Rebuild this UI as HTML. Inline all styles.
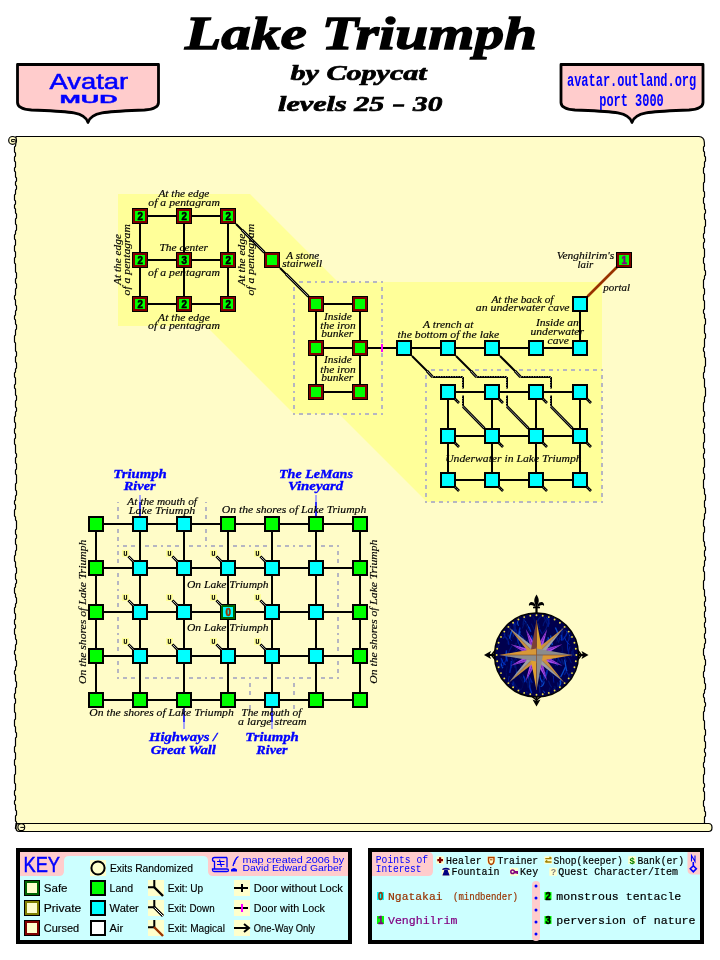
<!DOCTYPE html>
<html><head><meta charset="utf-8"><title>Lake Triumph</title>
<style>html,body{margin:0;padding:0;background:#fff;width:720px;height:960px;overflow:hidden}svg{display:block} svg{will-change:transform}</style>
</head><body>
<svg width="720" height="960" viewBox="0 0 720 960" shape-rendering="auto">
<rect width="720" height="960" fill="#fff"/>
<text x="185.09" y="48.60" font-family='"Liberation Serif", serif' font-size="47" font-weight="bold" font-style="italic" fill="#000" textLength="351.94" lengthAdjust="spacingAndGlyphs" stroke="#000" stroke-width="1.3">Lake Triumph</text>
<text x="290.50" y="80.00" font-family='"Liberation Serif", serif' font-size="22" font-weight="bold" font-style="italic" fill="#000" textLength="136.14" lengthAdjust="spacingAndGlyphs" stroke="#000" stroke-width="0.7">by Copycat</text>
<text x="278.00" y="110.80" font-family='"Liberation Serif", serif' font-size="21.5" font-weight="bold" font-style="italic" fill="#000" textLength="106.34" lengthAdjust="spacingAndGlyphs" stroke="#000" stroke-width="0.7">levels 25</text>
<text x="413.09" y="110.80" font-family='"Liberation Serif", serif' font-size="21.5" font-weight="bold" font-style="italic" fill="#000" textLength="29.31" lengthAdjust="spacingAndGlyphs" stroke="#000" stroke-width="0.7">30</text>
<path d="M393.2,104.3 H404.4 L404,106.7 H392.8 Z" fill="#000"/>
<path d="M17.5,64.5 H158.5 V102.5 Q158.5,109.0 144.5,110.0 C108,111.5 91,111.5 88,122.5 C85,111.5 68,111.5 31.5,110.0 Q17.5,109.0 17.5,102.5 Z" fill="#ffcccc" stroke="#000" stroke-width="2.8" stroke-linejoin="round"/>
<path d="M561,64.5 H703 V102.5 Q703,109.0 689,110.0 C652,111.5 635,111.5 632,122.5 C629,111.5 612,111.5 575,110.0 Q561,109.0 561,102.5 Z" fill="#ffcccc" stroke="#000" stroke-width="2.8" stroke-linejoin="round"/>
<text x="49.60" y="88.90" font-family='"Liberation Sans", sans-serif' font-size="22" font-weight="normal" font-style="normal" fill="#0000ff" textLength="78.46" lengthAdjust="spacingAndGlyphs" stroke="#0000ff" stroke-width="0.55">Avatar</text>
<text x="59.40" y="103.10" font-family='"Liberation Sans", sans-serif' font-size="11.6" font-weight="bold" font-style="normal" fill="#0000ff" textLength="58.26" lengthAdjust="spacingAndGlyphs" stroke="#0000ff" stroke-width="0.3">MUD</text>
<text x="567.00" y="85.50" font-family='"Liberation Mono", monospace' font-size="18" font-weight="bold" font-style="normal" fill="#0000ff" textLength="129.22" lengthAdjust="spacingAndGlyphs">avatar.outland.org</text>
<text x="599.30" y="105.80" font-family='"Liberation Mono", monospace' font-size="18.5" font-weight="bold" font-style="normal" fill="#0000ff" textLength="64.41" lengthAdjust="spacingAndGlyphs">port 3000</text>
<path d="M16,136.5 H699 Q704,137 704.3,142 L704.5,146.0 L703.5,147.0 L703.5,151.0 L704.5,152.0 L704.5,156.0 L705.5,157.0 L705.5,161.0 L704.5,162.0 L704.5,167.0 L703.5,168.0 L703.5,173.0 L704.5,174.0 L704.5,182.0 L703.5,183.0 L703.5,191.0 L704.5,192.0 L704.5,197.0 L703.5,198.0 L703.5,203.0 L704.5,204.0 L704.5,209.0 L705.5,210.0 L705.5,213.0 L704.5,214.0 L704.5,219.0 L705.5,220.0 L705.5,226.0 L704.5,227.0 L704.5,233.0 L703.5,234.0 L703.5,238.0 L704.5,239.0 L704.5,242.0 L703.5,243.0 L703.5,248.0 L704.5,249.0 L704.5,257.0 L703.5,258.0 L703.5,263.0 L704.5,264.0 L704.5,270.0 L705.5,271.0 L705.5,275.0 L704.5,276.0 L704.5,279.0 L703.5,280.0 L703.5,288.0 L704.5,289.0 L704.5,294.0 L703.5,295.0 L703.5,300.0 L704.5,301.0 L704.5,309.0 L703.5,310.0 L703.5,313.0 L704.5,314.0 L704.5,318.0 L705.5,319.0 L705.5,324.0 L704.5,325.0 L704.5,333.0 L705.5,334.0 L705.5,338.0 L704.5,339.0 L704.5,347.0 L703.5,348.0 L703.5,351.0 L704.5,352.0 L704.5,357.0 L705.5,358.0 L705.5,366.0 L704.5,367.0 L704.5,372.0 L703.5,373.0 L703.5,378.0 L704.5,379.0 L704.5,387.0 L705.5,388.0 L705.5,396.0 L704.5,397.0 L704.5,402.0 L703.5,403.0 L703.5,411.0 L704.5,412.0 L704.5,416.0 L703.5,417.0 L703.5,422.0 L704.5,423.0 L704.5,428.0 L703.5,429.0 L703.5,433.0 L704.5,434.0 L704.5,442.0 L703.5,443.0 L703.5,448.0 L704.5,449.0 L704.5,453.0 L703.5,454.0 L703.5,458.0 L704.5,459.0 L704.5,467.0 L703.5,468.0 L703.5,473.0 L704.5,474.0 L704.5,479.0 L703.5,480.0 L703.5,488.0 L704.5,489.0 L704.5,494.0 L705.5,495.0 L705.5,500.0 L704.5,501.0 L704.5,507.0 L705.5,508.0 L705.5,513.0 L704.5,514.0 L704.5,519.0 L703.5,520.0 L703.5,526.0 L704.5,527.0 L704.5,532.0 L703.5,533.0 L703.5,541.0 L704.5,542.0 L704.5,546.0 L705.5,547.0 L705.5,550.0 L704.5,551.0 L704.5,556.0 L705.5,557.0 L705.5,560.0 L704.5,561.0 L704.5,566.0 L703.5,567.0 L703.5,571.0 L704.5,572.0 L704.5,580.0 L703.5,581.0 L703.5,589.0 L704.5,590.0 L704.5,596.0 L705.5,597.0 L705.5,601.0 L704.5,602.0 L704.5,606.0 L705.5,607.0 L705.5,611.0 L704.5,612.0 L704.5,617.0 L705.5,618.0 L705.5,622.0 L704.5,623.0 L704.5,627.0 L705.5,628.0 L705.5,633.0 L704.5,634.0 L704.5,638.0 L705.5,639.0 L705.5,643.0 L704.5,644.0 L704.5,648.0 L703.5,649.0 L703.5,655.0 L704.5,656.0 L704.5,659.0 L705.5,660.0 L705.5,665.0 L704.5,666.0 L704.5,671.0 L703.5,672.0 L703.5,677.0 L704.5,678.0 L704.5,683.0 L705.5,684.0 L705.5,689.0 L704.5,690.0 L704.5,693.0 L703.5,694.0 L703.5,697.0 L704.5,698.0 L704.5,702.0 L705.5,703.0 L705.5,706.0 L704.5,707.0 L704.5,711.0 L703.5,712.0 L703.5,720.0 L704.5,721.0 L704.5,729.0 L705.5,730.0 L705.5,735.0 L704.5,736.0 L704.5,741.0 L705.5,742.0 L705.5,748.0 L704.5,749.0 L704.5,752.0 L705.5,753.0 L705.5,756.0 L704.5,757.0 L704.5,762.0 L703.5,763.0 L703.5,767.0 L704.5,768.0 L704.5,774.0 L703.5,775.0 L703.5,783.0 L704.5,784.0 L704.5,787.0 L703.5,788.0 L703.5,791.0 L704.5,792.0 L704.5,800.0 L703.5,801.0 L703.5,806.0 L704.5,807.0 L704.5,811.0 L705.5,812.0 L705.5,816.0 L704.5,817.0 L704.5,823.0 L704,823.5 H16 L15.5,829.0 L15.5,827.0 L16.5,826.0 L16.5,822.0 L15.5,821.0 L15.5,816.0 L16.5,815.0 L16.5,811.0 L15.5,810.0 L15.5,805.0 L14.5,804.0 L14.5,801.0 L15.5,800.0 L15.5,796.0 L14.5,795.0 L14.5,791.0 L15.5,790.0 L15.5,784.0 L14.5,783.0 L14.5,775.0 L15.5,774.0 L15.5,766.0 L14.5,765.0 L14.5,760.0 L15.5,759.0 L15.5,753.0 L14.5,752.0 L14.5,747.0 L15.5,746.0 L15.5,738.0 L16.5,737.0 L16.5,733.0 L15.5,732.0 L15.5,727.0 L14.5,726.0 L14.5,720.0 L15.5,719.0 L15.5,713.0 L14.5,712.0 L14.5,704.0 L15.5,703.0 L15.5,699.0 L14.5,698.0 L14.5,694.0 L15.5,693.0 L15.5,688.0 L16.5,687.0 L16.5,682.0 L15.5,681.0 L15.5,675.0 L14.5,674.0 L14.5,671.0 L15.5,670.0 L15.5,667.0 L16.5,666.0 L16.5,661.0 L15.5,660.0 L15.5,655.0 L14.5,654.0 L14.5,651.0 L15.5,650.0 L15.5,645.0 L16.5,644.0 L16.5,640.0 L15.5,639.0 L15.5,635.0 L14.5,634.0 L14.5,629.0 L15.5,628.0 L15.5,625.0 L14.5,624.0 L14.5,620.0 L15.5,619.0 L15.5,614.0 L14.5,613.0 L14.5,608.0 L15.5,607.0 L15.5,604.0 L16.5,603.0 L16.5,598.0 L15.5,597.0 L15.5,594.0 L14.5,593.0 L14.5,588.0 L15.5,587.0 L15.5,584.0 L16.5,583.0 L16.5,580.0 L15.5,579.0 L15.5,574.0 L16.5,573.0 L16.5,568.0 L15.5,567.0 L15.5,562.0 L14.5,561.0 L14.5,556.0 L15.5,555.0 L15.5,551.0 L16.5,550.0 L16.5,545.0 L15.5,544.0 L15.5,539.0 L16.5,538.0 L16.5,535.0 L15.5,534.0 L15.5,530.0 L16.5,529.0 L16.5,521.0 L15.5,520.0 L15.5,517.0 L14.5,516.0 L14.5,510.0 L15.5,509.0 L15.5,505.0 L14.5,504.0 L14.5,501.0 L15.5,500.0 L15.5,496.0 L16.5,495.0 L16.5,491.0 L15.5,490.0 L15.5,484.0 L16.5,483.0 L16.5,475.0 L15.5,474.0 L15.5,470.0 L16.5,469.0 L16.5,464.0 L15.5,463.0 L15.5,458.0 L16.5,457.0 L16.5,454.0 L15.5,453.0 L15.5,445.0 L14.5,444.0 L14.5,439.0 L15.5,438.0 L15.5,434.0 L14.5,433.0 L14.5,429.0 L15.5,428.0 L15.5,423.0 L14.5,422.0 L14.5,417.0 L15.5,416.0 L15.5,412.0 L16.5,411.0 L16.5,408.0 L15.5,407.0 L15.5,401.0 L16.5,400.0 L16.5,396.0 L15.5,395.0 L15.5,389.0 L14.5,388.0 L14.5,385.0 L15.5,384.0 L15.5,378.0 L14.5,377.0 L14.5,373.0 L15.5,372.0 L15.5,369.0 L16.5,368.0 L16.5,363.0 L15.5,362.0 L15.5,357.0 L16.5,356.0 L16.5,352.0 L15.5,351.0 L15.5,343.0 L14.5,342.0 L14.5,336.0 L15.5,335.0 L15.5,330.0 L16.5,329.0 L16.5,325.0 L15.5,324.0 L15.5,320.0 L14.5,319.0 L14.5,316.0 L15.5,315.0 L15.5,311.0 L16.5,310.0 L16.5,306.0 L15.5,305.0 L15.5,300.0 L14.5,299.0 L14.5,296.0 L15.5,295.0 L15.5,289.0 L16.5,288.0 L16.5,284.0 L15.5,283.0 L15.5,279.0 L16.5,278.0 L16.5,273.0 L15.5,272.0 L15.5,264.0 L14.5,263.0 L14.5,258.0 L15.5,257.0 L15.5,252.0 L14.5,251.0 L14.5,246.0 L15.5,245.0 L15.5,240.0 L14.5,239.0 L14.5,235.0 L15.5,234.0 L15.5,231.0 L16.5,230.0 L16.5,225.0 L15.5,224.0 L15.5,219.0 L16.5,218.0 L16.5,214.0 L15.5,213.0 L15.5,209.0 L14.5,208.0 L14.5,205.0 L15.5,204.0 L15.5,201.0 L14.5,200.0 L14.5,195.0 L15.5,194.0 L15.5,190.0 L16.5,189.0 L16.5,186.0 L15.5,185.0 L15.5,182.0 L16.5,181.0 L16.5,178.0 L15.5,177.0 L15.5,172.0 L14.5,171.0 L14.5,168.0 L15.5,167.0 L15.5,162.0 L14.5,161.0 L14.5,157.0 L15.5,156.0 L15.5,153.0 L14.5,152.0 L14.5,147.0 L15.5,146.0 L16,142 Z" fill="#fffcc8" stroke="#000" stroke-width="1.2"/>
<path d="M19,823.5 H708.5 Q712,823.5 712,827.5 Q712,831.5 708.5,831.5 H19 Q16,831.5 16,827.5 Q16,823.5 19,823.5 Z" fill="#fffcc8" stroke="#000" stroke-width="1.2"/>
<circle cx="21.3" cy="827.2" r="3.4" fill="#fffcc8" stroke="#000" stroke-width="1.1"/>
<path d="M20.3,827.4 H24" stroke="#000" stroke-width="1"/>
<circle cx="12.6" cy="140.4" r="3.9" fill="#fffcc8" stroke="#000" stroke-width="1.2"/>
<path d="M15.2,142.4 V139.6 H11.6 V141.6 H14.2" stroke="#000" stroke-width="1" fill="none"/>
<polygon points="118,194 250,194 338,282 602,282 602,502 427,502 339,414 294,414 206,326 118,326" fill="#ffff99"/>
<path d="M294,282 L383,282" fill="none" stroke="#b6b6c2" stroke-width="2" stroke-dasharray="4 4 4 4 2 4" stroke-dashoffset="17"/>
<path d="M294,414 L383,414" fill="none" stroke="#b6b6c2" stroke-width="2" stroke-dasharray="4 4 4 4 2 4" stroke-dashoffset="17"/>
<path d="M294,282 L294,415" fill="none" stroke="#b6b6c2" stroke-width="2" stroke-dasharray="4 4 4 4 2 4" stroke-dashoffset="17"/>
<path d="M382,282 L382,415" fill="none" stroke="#b6b6c2" stroke-width="2" stroke-dasharray="4 4 4 4 2 4" stroke-dashoffset="17"/>
<path d="M426,370 L603,370" fill="none" stroke="#b6b6c2" stroke-width="2" stroke-dasharray="4 4 4 4 2 4" stroke-dashoffset="17"/>
<path d="M426,502 L603,502" fill="none" stroke="#b6b6c2" stroke-width="2" stroke-dasharray="4 4 4 4 2 4" stroke-dashoffset="17"/>
<path d="M426,370 L426,503" fill="none" stroke="#b6b6c2" stroke-width="2" stroke-dasharray="4 4 4 4 2 4" stroke-dashoffset="17"/>
<path d="M602,370 L602,503" fill="none" stroke="#b6b6c2" stroke-width="2" stroke-dasharray="4 4 4 4 2 4" stroke-dashoffset="17"/>
<path d="M118,546 L339,546" fill="none" stroke="#b6b6c2" stroke-width="2" stroke-dasharray="4 4 4 4 2 4" stroke-dashoffset="17"/>
<path d="M118,678 L339,678" fill="none" stroke="#b6b6c2" stroke-width="2" stroke-dasharray="4 4 4 4 2 4" stroke-dashoffset="17"/>
<path d="M118,546 L118,679" fill="none" stroke="#b6b6c2" stroke-width="2" stroke-dasharray="4 4 4 4 2 4" stroke-dashoffset="17"/>
<path d="M338,546 L338,679" fill="none" stroke="#b6b6c2" stroke-width="2" stroke-dasharray="4 4 4 4 2 4" stroke-dashoffset="17"/>
<path d="M118,502 L118,546" fill="none" stroke="#b6b6c2" stroke-width="2" stroke-dasharray="4 4 4 4 2 4" stroke-dashoffset="17"/>
<path d="M206,502 L206,546" fill="none" stroke="#b6b6c2" stroke-width="2" stroke-dasharray="4 4 4 4 2 4" stroke-dashoffset="17"/>
<path d="M250,678 L250,709" fill="none" stroke="#b6b6c2" stroke-width="2" stroke-dasharray="4 4 4 4 2 4" stroke-dashoffset="17"/>
<path d="M294,678 L294,709" fill="none" stroke="#b6b6c2" stroke-width="2" stroke-dasharray="4 4 4 4 2 4" stroke-dashoffset="17"/>
<path d="M140,216 L228,216" stroke="#000" stroke-width="2" fill="none"/>
<path d="M140,260 L228,260" stroke="#000" stroke-width="2" fill="none"/>
<path d="M140,304 L228,304" stroke="#000" stroke-width="2" fill="none"/>
<path d="M140,216 L140,304" stroke="#000" stroke-width="2" fill="none"/>
<path d="M184,216 L184,304" stroke="#000" stroke-width="2" fill="none"/>
<path d="M228,216 L228,304" stroke="#000" stroke-width="2" fill="none"/>
<path d="M236,224 L242.5,230.5" stroke="#000" stroke-width="2" fill="none"/>
<path d="M242,230 L264.5,252.5" stroke="#000" stroke-width="2.8" fill="none"/>
<path d="M242,230 L264.5,252.5" stroke="#fff" stroke-width="0.9" stroke-dasharray="1 0.5" fill="none" opacity="0.9"/>
<path d="M280,268 L286.5,274.5" stroke="#000" stroke-width="2" fill="none"/>
<path d="M286,274 L308.5,296.5" stroke="#000" stroke-width="2.8" fill="none"/>
<path d="M286,274 L308.5,296.5" stroke="#fff" stroke-width="0.9" stroke-dasharray="1 0.5" fill="none" opacity="0.9"/>
<path d="M316,304 L360,304" stroke="#000" stroke-width="2" fill="none"/>
<path d="M316,348 L360,348" stroke="#000" stroke-width="2" fill="none"/>
<path d="M316,392 L360,392" stroke="#000" stroke-width="2" fill="none"/>
<path d="M316,304 L316,392" stroke="#000" stroke-width="2" fill="none"/>
<path d="M360,304 L360,392" stroke="#000" stroke-width="2" fill="none"/>
<path d="M360,348 L404,348" stroke="#000" stroke-width="2" fill="none"/>
<path d="M404,348 L580,348" stroke="#000" stroke-width="2" fill="none"/>
<path d="M580,304 L580,348" stroke="#000" stroke-width="2" fill="none"/>
<path d="M587.5,296.5 L617,267" stroke="#993300" stroke-width="2.6" fill="none"/>
<path d="M448,392 L580,392" stroke="#000" stroke-width="2" fill="none"/>
<path d="M448,436 L580,436" stroke="#000" stroke-width="2" fill="none"/>
<path d="M448,480 L580,480" stroke="#000" stroke-width="2" fill="none"/>
<path d="M448,392 L448,480" stroke="#000" stroke-width="2" fill="none"/>
<path d="M492,392 L492,480" stroke="#000" stroke-width="2" fill="none"/>
<path d="M536,392 L536,480" stroke="#000" stroke-width="2" fill="none"/>
<path d="M580,392 L580,480" stroke="#000" stroke-width="2" fill="none"/>
<path d="M412,356 L427.5,371.5" stroke="#000" stroke-width="2" fill="none"/>
<path d="M427,371 L432.5,377" stroke="#000" stroke-width="2.8" fill="none"/>
<path d="M427,371 L432.5,377" stroke="#fff" stroke-width="0.9" stroke-dasharray="1 0.5" fill="none" opacity="0.9"/>
<path d="M432.5,377 L463,377" stroke="#000" stroke-width="2" fill="none"/>
<path d="M432.5,376.55 L463,376.55" stroke="#fff" stroke-width="0.7" stroke-dasharray="0.9 1.6" fill="none" opacity="0.85"/>
<path d="M463,377 L463,388.5" stroke="#000" stroke-width="2" fill="none"/>
<path d="M462.55,377 L462.55,388.5" stroke="#fff" stroke-width="0.7" stroke-dasharray="0.9 1.6" fill="none" opacity="0.85"/>
<path d="M463,395.5 L463,406.5" stroke="#000" stroke-width="2" fill="none"/>
<path d="M462.55,395.5 L462.55,406.5" stroke="#fff" stroke-width="0.7" stroke-dasharray="0.9 1.6" fill="none" opacity="0.85"/>
<path d="M463,406.5 L484.5,428.5" stroke="#000" stroke-width="2.8" fill="none"/>
<path d="M463,406.5 L484.5,428.5" stroke="#fff" stroke-width="0.9" stroke-dasharray="1 0.5" fill="none" opacity="0.9"/>
<path d="M456,356 L471.5,371.5" stroke="#000" stroke-width="2" fill="none"/>
<path d="M471,371 L476.5,377" stroke="#000" stroke-width="2.8" fill="none"/>
<path d="M471,371 L476.5,377" stroke="#fff" stroke-width="0.9" stroke-dasharray="1 0.5" fill="none" opacity="0.9"/>
<path d="M476.5,377 L507,377" stroke="#000" stroke-width="2" fill="none"/>
<path d="M476.5,376.55 L507,376.55" stroke="#fff" stroke-width="0.7" stroke-dasharray="0.9 1.6" fill="none" opacity="0.85"/>
<path d="M507,377 L507,388.5" stroke="#000" stroke-width="2" fill="none"/>
<path d="M506.55,377 L506.55,388.5" stroke="#fff" stroke-width="0.7" stroke-dasharray="0.9 1.6" fill="none" opacity="0.85"/>
<path d="M507,395.5 L507,406.5" stroke="#000" stroke-width="2" fill="none"/>
<path d="M506.55,395.5 L506.55,406.5" stroke="#fff" stroke-width="0.7" stroke-dasharray="0.9 1.6" fill="none" opacity="0.85"/>
<path d="M507,406.5 L528.5,428.5" stroke="#000" stroke-width="2.8" fill="none"/>
<path d="M507,406.5 L528.5,428.5" stroke="#fff" stroke-width="0.9" stroke-dasharray="1 0.5" fill="none" opacity="0.9"/>
<path d="M500,356 L515.5,371.5" stroke="#000" stroke-width="2" fill="none"/>
<path d="M515,371 L520.5,377" stroke="#000" stroke-width="2.8" fill="none"/>
<path d="M515,371 L520.5,377" stroke="#fff" stroke-width="0.9" stroke-dasharray="1 0.5" fill="none" opacity="0.9"/>
<path d="M520.5,377 L551,377" stroke="#000" stroke-width="2" fill="none"/>
<path d="M520.5,376.55 L551,376.55" stroke="#fff" stroke-width="0.7" stroke-dasharray="0.9 1.6" fill="none" opacity="0.85"/>
<path d="M551,377 L551,388.5" stroke="#000" stroke-width="2" fill="none"/>
<path d="M550.55,377 L550.55,388.5" stroke="#fff" stroke-width="0.7" stroke-dasharray="0.9 1.6" fill="none" opacity="0.85"/>
<path d="M551,395.5 L551,406.5" stroke="#000" stroke-width="2" fill="none"/>
<path d="M550.55,395.5 L550.55,406.5" stroke="#fff" stroke-width="0.7" stroke-dasharray="0.9 1.6" fill="none" opacity="0.85"/>
<path d="M551,406.5 L572.5,428.5" stroke="#000" stroke-width="2.8" fill="none"/>
<path d="M551,406.5 L572.5,428.5" stroke="#fff" stroke-width="0.9" stroke-dasharray="1 0.5" fill="none" opacity="0.9"/>
<rect x="381" y="344" width="2" height="8" fill="#ff00ff"/>
<path d="M96,524 L360,524" stroke="#000" stroke-width="2" fill="none"/>
<path d="M96,568 L360,568" stroke="#000" stroke-width="2" fill="none"/>
<path d="M96,612 L360,612" stroke="#000" stroke-width="2" fill="none"/>
<path d="M96,656 L360,656" stroke="#000" stroke-width="2" fill="none"/>
<path d="M96,700 L360,700" stroke="#000" stroke-width="2" fill="none"/>
<path d="M96,524 L96,700" stroke="#000" stroke-width="2" fill="none"/>
<path d="M140,524 L140,700" stroke="#000" stroke-width="2" fill="none"/>
<path d="M184,524 L184,700" stroke="#000" stroke-width="2" fill="none"/>
<path d="M228,524 L228,700" stroke="#000" stroke-width="2" fill="none"/>
<path d="M272,524 L272,700" stroke="#000" stroke-width="2" fill="none"/>
<path d="M316,524 L316,700" stroke="#000" stroke-width="2" fill="none"/>
<path d="M360,524 L360,700" stroke="#000" stroke-width="2" fill="none"/>
<path d="M140,495 V502" stroke="#9090ff" stroke-width="1.6"/><path d="M140,502 V516" stroke="#0000ff" stroke-width="1.6"/>
<path d="M316,495 V502" stroke="#9090ff" stroke-width="1.6"/><path d="M316,502 V516" stroke="#0000ff" stroke-width="1.6"/>
<path d="M184,708 V713" stroke="#000080" stroke-width="1.6"/><path d="M184,713 V722" stroke="#0000ff" stroke-width="1.6"/><path d="M184,722 V729" stroke="#9090ff" stroke-width="1.6"/>
<path d="M272,708 V713" stroke="#000080" stroke-width="1.6"/><path d="M272,713 V722" stroke="#0000ff" stroke-width="1.6"/><path d="M272,722 V729" stroke="#9090ff" stroke-width="1.6"/>
<rect x="132" y="208" width="16" height="16" fill="#000"/>
<rect x="133" y="209" width="14" height="14" fill="#800000"/>
<rect x="135" y="211" width="10" height="10" fill="#00ff00"/>
<text x="137.40" y="219.90" font-family='"Liberation Sans", sans-serif' font-size="10.8" font-weight="bold" font-style="normal" fill="#000" textLength="5.41" lengthAdjust="spacingAndGlyphs" stroke="#000" stroke-width="0.6">2</text>
<rect x="132" y="252" width="16" height="16" fill="#000"/>
<rect x="133" y="253" width="14" height="14" fill="#800000"/>
<rect x="135" y="255" width="10" height="10" fill="#00ff00"/>
<text x="137.40" y="263.90" font-family='"Liberation Sans", sans-serif' font-size="10.8" font-weight="bold" font-style="normal" fill="#000" textLength="5.41" lengthAdjust="spacingAndGlyphs" stroke="#000" stroke-width="0.6">2</text>
<rect x="132" y="296" width="16" height="16" fill="#000"/>
<rect x="133" y="297" width="14" height="14" fill="#800000"/>
<rect x="135" y="299" width="10" height="10" fill="#00ff00"/>
<text x="137.40" y="307.90" font-family='"Liberation Sans", sans-serif' font-size="10.8" font-weight="bold" font-style="normal" fill="#000" textLength="5.41" lengthAdjust="spacingAndGlyphs" stroke="#000" stroke-width="0.6">2</text>
<rect x="176" y="208" width="16" height="16" fill="#000"/>
<rect x="177" y="209" width="14" height="14" fill="#800000"/>
<rect x="179" y="211" width="10" height="10" fill="#00ff00"/>
<text x="181.40" y="219.90" font-family='"Liberation Sans", sans-serif' font-size="10.8" font-weight="bold" font-style="normal" fill="#000" textLength="5.41" lengthAdjust="spacingAndGlyphs" stroke="#000" stroke-width="0.6">2</text>
<rect x="176" y="252" width="16" height="16" fill="#000"/>
<rect x="177" y="253" width="14" height="14" fill="#800000"/>
<rect x="179" y="255" width="10" height="10" fill="#00ff00"/>
<text x="181.40" y="263.90" font-family='"Liberation Sans", sans-serif' font-size="10.8" font-weight="bold" font-style="normal" fill="#000" textLength="5.41" lengthAdjust="spacingAndGlyphs" stroke="#000" stroke-width="0.6">3</text>
<rect x="176" y="296" width="16" height="16" fill="#000"/>
<rect x="177" y="297" width="14" height="14" fill="#800000"/>
<rect x="179" y="299" width="10" height="10" fill="#00ff00"/>
<text x="181.40" y="307.90" font-family='"Liberation Sans", sans-serif' font-size="10.8" font-weight="bold" font-style="normal" fill="#000" textLength="5.41" lengthAdjust="spacingAndGlyphs" stroke="#000" stroke-width="0.6">2</text>
<rect x="220" y="208" width="16" height="16" fill="#000"/>
<rect x="221" y="209" width="14" height="14" fill="#800000"/>
<rect x="223" y="211" width="10" height="10" fill="#00ff00"/>
<text x="225.40" y="219.90" font-family='"Liberation Sans", sans-serif' font-size="10.8" font-weight="bold" font-style="normal" fill="#000" textLength="5.41" lengthAdjust="spacingAndGlyphs" stroke="#000" stroke-width="0.6">2</text>
<rect x="220" y="252" width="16" height="16" fill="#000"/>
<rect x="221" y="253" width="14" height="14" fill="#800000"/>
<rect x="223" y="255" width="10" height="10" fill="#00ff00"/>
<text x="225.40" y="263.90" font-family='"Liberation Sans", sans-serif' font-size="10.8" font-weight="bold" font-style="normal" fill="#000" textLength="5.41" lengthAdjust="spacingAndGlyphs" stroke="#000" stroke-width="0.6">2</text>
<rect x="220" y="296" width="16" height="16" fill="#000"/>
<rect x="221" y="297" width="14" height="14" fill="#800000"/>
<rect x="223" y="299" width="10" height="10" fill="#00ff00"/>
<text x="225.40" y="307.90" font-family='"Liberation Sans", sans-serif' font-size="10.8" font-weight="bold" font-style="normal" fill="#000" textLength="5.41" lengthAdjust="spacingAndGlyphs" stroke="#000" stroke-width="0.6">2</text>
<rect x="264" y="252" width="16" height="16" fill="#000"/>
<rect x="265" y="253" width="14" height="14" fill="#800000"/>
<rect x="267" y="255" width="10" height="10" fill="#00ff00"/>
<rect x="308" y="296" width="16" height="16" fill="#000"/>
<rect x="309" y="297" width="14" height="14" fill="#800000"/>
<rect x="311" y="299" width="10" height="10" fill="#00ff00"/>
<rect x="308" y="340" width="16" height="16" fill="#000"/>
<rect x="309" y="341" width="14" height="14" fill="#800000"/>
<rect x="311" y="343" width="10" height="10" fill="#00ff00"/>
<rect x="308" y="384" width="16" height="16" fill="#000"/>
<rect x="309" y="385" width="14" height="14" fill="#800000"/>
<rect x="311" y="387" width="10" height="10" fill="#00ff00"/>
<rect x="352" y="296" width="16" height="16" fill="#000"/>
<rect x="353" y="297" width="14" height="14" fill="#800000"/>
<rect x="355" y="299" width="10" height="10" fill="#00ff00"/>
<rect x="352" y="340" width="16" height="16" fill="#000"/>
<rect x="353" y="341" width="14" height="14" fill="#800000"/>
<rect x="355" y="343" width="10" height="10" fill="#00ff00"/>
<rect x="352" y="384" width="16" height="16" fill="#000"/>
<rect x="353" y="385" width="14" height="14" fill="#800000"/>
<rect x="355" y="387" width="10" height="10" fill="#00ff00"/>
<rect x="396" y="340" width="16" height="16" fill="#000"/>
<rect x="398" y="342" width="12" height="12" fill="#00ffff"/>
<rect x="440" y="340" width="16" height="16" fill="#000"/>
<rect x="442" y="342" width="12" height="12" fill="#00ffff"/>
<rect x="484" y="340" width="16" height="16" fill="#000"/>
<rect x="486" y="342" width="12" height="12" fill="#00ffff"/>
<rect x="528" y="340" width="16" height="16" fill="#000"/>
<rect x="530" y="342" width="12" height="12" fill="#00ffff"/>
<rect x="572" y="340" width="16" height="16" fill="#000"/>
<rect x="574" y="342" width="12" height="12" fill="#00ffff"/>
<rect x="572" y="296" width="16" height="16" fill="#000"/>
<rect x="574" y="298" width="12" height="12" fill="#00ffff"/>
<rect x="616" y="252" width="16" height="16" fill="#000"/>
<rect x="617" y="253" width="14" height="14" fill="#800000"/>
<rect x="619" y="255" width="10" height="10" fill="#00ff00"/>
<text x="621.40" y="263.90" font-family='"Liberation Sans", sans-serif' font-size="10.8" font-weight="bold" font-style="normal" fill="#800080" textLength="5.41" lengthAdjust="spacingAndGlyphs" stroke="#800080" stroke-width="0.6">1</text>
<rect x="440" y="384" width="16" height="16" fill="#000"/>
<rect x="442" y="386" width="12" height="12" fill="#00ffff"/>
<path d="M454.5,398.5 L459,403" stroke="#000" stroke-width="2.6" fill="none"/>
<path d="M455.5,399.5 L459,403" stroke="#fff" stroke-width="0.8" stroke-dasharray="1 1.2" fill="none" opacity="0.8"/>
<rect x="440" y="428" width="16" height="16" fill="#000"/>
<rect x="442" y="430" width="12" height="12" fill="#00ffff"/>
<path d="M454.5,442.5 L459,447" stroke="#000" stroke-width="2.6" fill="none"/>
<path d="M455.5,443.5 L459,447" stroke="#fff" stroke-width="0.8" stroke-dasharray="1 1.2" fill="none" opacity="0.8"/>
<rect x="440" y="472" width="16" height="16" fill="#000"/>
<rect x="442" y="474" width="12" height="12" fill="#00ffff"/>
<path d="M454.5,486.5 L459,491" stroke="#000" stroke-width="2.6" fill="none"/>
<path d="M455.5,487.5 L459,491" stroke="#fff" stroke-width="0.8" stroke-dasharray="1 1.2" fill="none" opacity="0.8"/>
<rect x="484" y="384" width="16" height="16" fill="#000"/>
<rect x="486" y="386" width="12" height="12" fill="#00ffff"/>
<path d="M498.5,398.5 L503,403" stroke="#000" stroke-width="2.6" fill="none"/>
<path d="M499.5,399.5 L503,403" stroke="#fff" stroke-width="0.8" stroke-dasharray="1 1.2" fill="none" opacity="0.8"/>
<rect x="484" y="428" width="16" height="16" fill="#000"/>
<rect x="486" y="430" width="12" height="12" fill="#00ffff"/>
<path d="M498.5,442.5 L503,447" stroke="#000" stroke-width="2.6" fill="none"/>
<path d="M499.5,443.5 L503,447" stroke="#fff" stroke-width="0.8" stroke-dasharray="1 1.2" fill="none" opacity="0.8"/>
<rect x="484" y="472" width="16" height="16" fill="#000"/>
<rect x="486" y="474" width="12" height="12" fill="#00ffff"/>
<path d="M498.5,486.5 L503,491" stroke="#000" stroke-width="2.6" fill="none"/>
<path d="M499.5,487.5 L503,491" stroke="#fff" stroke-width="0.8" stroke-dasharray="1 1.2" fill="none" opacity="0.8"/>
<rect x="528" y="384" width="16" height="16" fill="#000"/>
<rect x="530" y="386" width="12" height="12" fill="#00ffff"/>
<path d="M542.5,398.5 L547,403" stroke="#000" stroke-width="2.6" fill="none"/>
<path d="M543.5,399.5 L547,403" stroke="#fff" stroke-width="0.8" stroke-dasharray="1 1.2" fill="none" opacity="0.8"/>
<rect x="528" y="428" width="16" height="16" fill="#000"/>
<rect x="530" y="430" width="12" height="12" fill="#00ffff"/>
<path d="M542.5,442.5 L547,447" stroke="#000" stroke-width="2.6" fill="none"/>
<path d="M543.5,443.5 L547,447" stroke="#fff" stroke-width="0.8" stroke-dasharray="1 1.2" fill="none" opacity="0.8"/>
<rect x="528" y="472" width="16" height="16" fill="#000"/>
<rect x="530" y="474" width="12" height="12" fill="#00ffff"/>
<path d="M542.5,486.5 L547,491" stroke="#000" stroke-width="2.6" fill="none"/>
<path d="M543.5,487.5 L547,491" stroke="#fff" stroke-width="0.8" stroke-dasharray="1 1.2" fill="none" opacity="0.8"/>
<rect x="572" y="384" width="16" height="16" fill="#000"/>
<rect x="574" y="386" width="12" height="12" fill="#00ffff"/>
<path d="M586.5,398.5 L591,403" stroke="#000" stroke-width="2.6" fill="none"/>
<path d="M587.5,399.5 L591,403" stroke="#fff" stroke-width="0.8" stroke-dasharray="1 1.2" fill="none" opacity="0.8"/>
<rect x="572" y="428" width="16" height="16" fill="#000"/>
<rect x="574" y="430" width="12" height="12" fill="#00ffff"/>
<path d="M586.5,442.5 L591,447" stroke="#000" stroke-width="2.6" fill="none"/>
<path d="M587.5,443.5 L591,447" stroke="#fff" stroke-width="0.8" stroke-dasharray="1 1.2" fill="none" opacity="0.8"/>
<rect x="572" y="472" width="16" height="16" fill="#000"/>
<rect x="574" y="474" width="12" height="12" fill="#00ffff"/>
<path d="M586.5,486.5 L591,491" stroke="#000" stroke-width="2.6" fill="none"/>
<path d="M587.5,487.5 L591,491" stroke="#fff" stroke-width="0.8" stroke-dasharray="1 1.2" fill="none" opacity="0.8"/>
<rect x="88" y="516" width="16" height="16" fill="#000"/>
<rect x="90" y="518" width="12" height="12" fill="#00ff00"/>
<rect x="132" y="516" width="16" height="16" fill="#000"/>
<rect x="134" y="518" width="12" height="12" fill="#00ffff"/>
<rect x="176" y="516" width="16" height="16" fill="#000"/>
<rect x="178" y="518" width="12" height="12" fill="#00ffff"/>
<rect x="220" y="516" width="16" height="16" fill="#000"/>
<rect x="222" y="518" width="12" height="12" fill="#00ff00"/>
<rect x="264" y="516" width="16" height="16" fill="#000"/>
<rect x="266" y="518" width="12" height="12" fill="#00ff00"/>
<rect x="308" y="516" width="16" height="16" fill="#000"/>
<rect x="310" y="518" width="12" height="12" fill="#00ff00"/>
<rect x="352" y="516" width="16" height="16" fill="#000"/>
<rect x="354" y="518" width="12" height="12" fill="#00ff00"/>
<rect x="88" y="560" width="16" height="16" fill="#000"/>
<rect x="90" y="562" width="12" height="12" fill="#00ff00"/>
<rect x="132" y="560" width="16" height="16" fill="#000"/>
<rect x="134" y="562" width="12" height="12" fill="#00ffff"/>
<rect x="176" y="560" width="16" height="16" fill="#000"/>
<rect x="178" y="562" width="12" height="12" fill="#00ffff"/>
<rect x="220" y="560" width="16" height="16" fill="#000"/>
<rect x="222" y="562" width="12" height="12" fill="#00ffff"/>
<rect x="264" y="560" width="16" height="16" fill="#000"/>
<rect x="266" y="562" width="12" height="12" fill="#00ffff"/>
<rect x="308" y="560" width="16" height="16" fill="#000"/>
<rect x="310" y="562" width="12" height="12" fill="#00ffff"/>
<rect x="352" y="560" width="16" height="16" fill="#000"/>
<rect x="354" y="562" width="12" height="12" fill="#00ff00"/>
<rect x="88" y="604" width="16" height="16" fill="#000"/>
<rect x="90" y="606" width="12" height="12" fill="#00ff00"/>
<rect x="132" y="604" width="16" height="16" fill="#000"/>
<rect x="134" y="606" width="12" height="12" fill="#00ffff"/>
<rect x="176" y="604" width="16" height="16" fill="#000"/>
<rect x="178" y="606" width="12" height="12" fill="#00ffff"/>
<rect x="220" y="604" width="16" height="16" fill="#000"/>
<rect x="221" y="605" width="14" height="14" fill="#006400"/>
<rect x="223" y="607" width="10" height="10" fill="#00ffff"/>
<text x="225.40" y="615.90" font-family='"Liberation Sans", sans-serif' font-size="10.8" font-weight="bold" font-style="normal" fill="#993300" textLength="5.41" lengthAdjust="spacingAndGlyphs" stroke="#993300" stroke-width="0.6">0</text>
<rect x="264" y="604" width="16" height="16" fill="#000"/>
<rect x="266" y="606" width="12" height="12" fill="#00ffff"/>
<rect x="308" y="604" width="16" height="16" fill="#000"/>
<rect x="310" y="606" width="12" height="12" fill="#00ffff"/>
<rect x="352" y="604" width="16" height="16" fill="#000"/>
<rect x="354" y="606" width="12" height="12" fill="#00ff00"/>
<rect x="88" y="648" width="16" height="16" fill="#000"/>
<rect x="90" y="650" width="12" height="12" fill="#00ff00"/>
<rect x="132" y="648" width="16" height="16" fill="#000"/>
<rect x="134" y="650" width="12" height="12" fill="#00ffff"/>
<rect x="176" y="648" width="16" height="16" fill="#000"/>
<rect x="178" y="650" width="12" height="12" fill="#00ffff"/>
<rect x="220" y="648" width="16" height="16" fill="#000"/>
<rect x="222" y="650" width="12" height="12" fill="#00ffff"/>
<rect x="264" y="648" width="16" height="16" fill="#000"/>
<rect x="266" y="650" width="12" height="12" fill="#00ffff"/>
<rect x="308" y="648" width="16" height="16" fill="#000"/>
<rect x="310" y="650" width="12" height="12" fill="#00ffff"/>
<rect x="352" y="648" width="16" height="16" fill="#000"/>
<rect x="354" y="650" width="12" height="12" fill="#00ff00"/>
<rect x="88" y="692" width="16" height="16" fill="#000"/>
<rect x="90" y="694" width="12" height="12" fill="#00ff00"/>
<rect x="132" y="692" width="16" height="16" fill="#000"/>
<rect x="134" y="694" width="12" height="12" fill="#00ff00"/>
<rect x="176" y="692" width="16" height="16" fill="#000"/>
<rect x="178" y="694" width="12" height="12" fill="#00ff00"/>
<rect x="220" y="692" width="16" height="16" fill="#000"/>
<rect x="222" y="694" width="12" height="12" fill="#00ff00"/>
<rect x="264" y="692" width="16" height="16" fill="#000"/>
<rect x="266" y="694" width="12" height="12" fill="#00ffff"/>
<rect x="308" y="692" width="16" height="16" fill="#000"/>
<rect x="310" y="694" width="12" height="12" fill="#00ff00"/>
<rect x="352" y="692" width="16" height="16" fill="#000"/>
<rect x="354" y="694" width="12" height="12" fill="#00ff00"/>
<rect x="122" y="550" width="7" height="7" fill="#ffff99"/>
<path d="M124.3,551 V555.3 H126.6 V551" stroke="#000" stroke-width="1" fill="none"/>
<path d="M128.4,556.4 L133.2,561.2" stroke="#000" stroke-width="2.7" fill="none"/>
<path d="M129,557 L133.5,561.5" stroke="#fff" stroke-width="0.9" stroke-dasharray="1.2 0.5" fill="none"/>
<rect x="166" y="550" width="7" height="7" fill="#ffff99"/>
<path d="M168.3,551 V555.3 H170.6 V551" stroke="#000" stroke-width="1" fill="none"/>
<path d="M172.4,556.4 L177.2,561.2" stroke="#000" stroke-width="2.7" fill="none"/>
<path d="M173,557 L177.5,561.5" stroke="#fff" stroke-width="0.9" stroke-dasharray="1.2 0.5" fill="none"/>
<rect x="210" y="550" width="7" height="7" fill="#ffff99"/>
<path d="M212.3,551 V555.3 H214.6 V551" stroke="#000" stroke-width="1" fill="none"/>
<path d="M216.4,556.4 L221.2,561.2" stroke="#000" stroke-width="2.7" fill="none"/>
<path d="M217,557 L221.5,561.5" stroke="#fff" stroke-width="0.9" stroke-dasharray="1.2 0.5" fill="none"/>
<rect x="254" y="550" width="7" height="7" fill="#ffff99"/>
<path d="M256.3,551 V555.3 H258.6 V551" stroke="#000" stroke-width="1" fill="none"/>
<path d="M260.4,556.4 L265.2,561.2" stroke="#000" stroke-width="2.7" fill="none"/>
<path d="M261,557 L265.5,561.5" stroke="#fff" stroke-width="0.9" stroke-dasharray="1.2 0.5" fill="none"/>
<rect x="122" y="594" width="7" height="7" fill="#ffff99"/>
<path d="M124.3,595 V599.3 H126.6 V595" stroke="#000" stroke-width="1" fill="none"/>
<path d="M128.4,600.4 L133.2,605.2" stroke="#000" stroke-width="2.7" fill="none"/>
<path d="M129,601 L133.5,605.5" stroke="#fff" stroke-width="0.9" stroke-dasharray="1.2 0.5" fill="none"/>
<rect x="166" y="594" width="7" height="7" fill="#ffff99"/>
<path d="M168.3,595 V599.3 H170.6 V595" stroke="#000" stroke-width="1" fill="none"/>
<path d="M172.4,600.4 L177.2,605.2" stroke="#000" stroke-width="2.7" fill="none"/>
<path d="M173,601 L177.5,605.5" stroke="#fff" stroke-width="0.9" stroke-dasharray="1.2 0.5" fill="none"/>
<rect x="210" y="594" width="7" height="7" fill="#ffff99"/>
<path d="M212.3,595 V599.3 H214.6 V595" stroke="#000" stroke-width="1" fill="none"/>
<path d="M216.4,600.4 L221.2,605.2" stroke="#000" stroke-width="2.7" fill="none"/>
<path d="M217,601 L221.5,605.5" stroke="#fff" stroke-width="0.9" stroke-dasharray="1.2 0.5" fill="none"/>
<rect x="254" y="594" width="7" height="7" fill="#ffff99"/>
<path d="M256.3,595 V599.3 H258.6 V595" stroke="#000" stroke-width="1" fill="none"/>
<path d="M260.4,600.4 L265.2,605.2" stroke="#000" stroke-width="2.7" fill="none"/>
<path d="M261,601 L265.5,605.5" stroke="#fff" stroke-width="0.9" stroke-dasharray="1.2 0.5" fill="none"/>
<rect x="122" y="638" width="7" height="7" fill="#ffff99"/>
<path d="M124.3,639 V643.3 H126.6 V639" stroke="#000" stroke-width="1" fill="none"/>
<path d="M128.4,644.4 L133.2,649.2" stroke="#000" stroke-width="2.7" fill="none"/>
<path d="M129,645 L133.5,649.5" stroke="#fff" stroke-width="0.9" stroke-dasharray="1.2 0.5" fill="none"/>
<rect x="166" y="638" width="7" height="7" fill="#ffff99"/>
<path d="M168.3,639 V643.3 H170.6 V639" stroke="#000" stroke-width="1" fill="none"/>
<path d="M172.4,644.4 L177.2,649.2" stroke="#000" stroke-width="2.7" fill="none"/>
<path d="M173,645 L177.5,649.5" stroke="#fff" stroke-width="0.9" stroke-dasharray="1.2 0.5" fill="none"/>
<rect x="210" y="638" width="7" height="7" fill="#ffff99"/>
<path d="M212.3,639 V643.3 H214.6 V639" stroke="#000" stroke-width="1" fill="none"/>
<path d="M216.4,644.4 L221.2,649.2" stroke="#000" stroke-width="2.7" fill="none"/>
<path d="M217,645 L221.5,649.5" stroke="#fff" stroke-width="0.9" stroke-dasharray="1.2 0.5" fill="none"/>
<rect x="254" y="638" width="7" height="7" fill="#ffff99"/>
<path d="M256.3,639 V643.3 H258.6 V639" stroke="#000" stroke-width="1" fill="none"/>
<path d="M260.4,644.4 L265.2,649.2" stroke="#000" stroke-width="2.7" fill="none"/>
<path d="M261,645 L265.5,649.5" stroke="#fff" stroke-width="0.9" stroke-dasharray="1.2 0.5" fill="none"/>
<text x="158.42" y="196.80" font-family='"Liberation Serif", serif' font-size="10.8" font-weight="normal" font-style="italic" fill="#000" textLength="50.95" lengthAdjust="spacingAndGlyphs" stroke="#000" stroke-width="0.15">At the edge</text>
<text x="148.30" y="205.60" font-family='"Liberation Serif", serif' font-size="10.8" font-weight="normal" font-style="italic" fill="#000" textLength="71.61" lengthAdjust="spacingAndGlyphs" stroke="#000" stroke-width="0.15">of a pentagram</text>
<text x="159.40" y="250.50" font-family='"Liberation Serif", serif' font-size="10.8" font-weight="normal" font-style="italic" fill="#000" textLength="48.62" lengthAdjust="spacingAndGlyphs" stroke="#000" stroke-width="0.15">The center</text>
<text x="148.10" y="275.50" font-family='"Liberation Serif", serif' font-size="10.8" font-weight="normal" font-style="italic" fill="#000" textLength="71.91" lengthAdjust="spacingAndGlyphs" stroke="#000" stroke-width="0.15">of a pentagram</text>
<text x="158.13" y="320.60" font-family='"Liberation Serif", serif' font-size="10.8" font-weight="normal" font-style="italic" fill="#000" textLength="51.84" lengthAdjust="spacingAndGlyphs" stroke="#000" stroke-width="0.15">At the edge</text>
<text x="148.00" y="329.10" font-family='"Liberation Serif", serif' font-size="10.8" font-weight="normal" font-style="italic" fill="#000" textLength="72.01" lengthAdjust="spacingAndGlyphs" stroke="#000" stroke-width="0.15">of a pentagram</text>
<text transform="translate(121.20,285.60) rotate(-90)" x="0.62" y="0" font-family='"Liberation Serif", serif' font-size="10.8" font-style="italic" fill="#000" stroke="#000" stroke-width="0.15" textLength="50.95" lengthAdjust="spacingAndGlyphs">At the edge</text>
<text transform="translate(130.10,295.40) rotate(-90)" x="0.00" y="0" font-family='"Liberation Serif", serif' font-size="10.8" font-style="italic" fill="#000" stroke="#000" stroke-width="0.15" textLength="71.21" lengthAdjust="spacingAndGlyphs">of a pentagram</text>
<text transform="translate(245.00,286.20) rotate(-90)" x="0.63" y="0" font-family='"Liberation Serif", serif' font-size="10.8" font-style="italic" fill="#000" stroke="#000" stroke-width="0.15" textLength="51.84" lengthAdjust="spacingAndGlyphs">At the edge</text>
<text transform="translate(253.60,295.60) rotate(-90)" x="0.00" y="0" font-family='"Liberation Serif", serif' font-size="10.8" font-style="italic" fill="#000" stroke="#000" stroke-width="0.15" textLength="71.71" lengthAdjust="spacingAndGlyphs">of a pentagram</text>
<text x="286.31" y="258.50" font-family='"Liberation Serif", serif' font-size="10.8" font-weight="normal" font-style="italic" fill="#000" textLength="32.97" lengthAdjust="spacingAndGlyphs" stroke="#000" stroke-width="0.15">A stone</text>
<text x="282.30" y="266.90" font-family='"Liberation Serif", serif' font-size="10.8" font-weight="normal" font-style="italic" fill="#000" textLength="39.80" lengthAdjust="spacingAndGlyphs" stroke="#000" stroke-width="0.15">stairwell</text>
<text x="323.96" y="319.60" font-family='"Liberation Serif", serif' font-size="10.8" font-weight="normal" font-style="italic" fill="#000" textLength="27.93" lengthAdjust="spacingAndGlyphs" stroke="#000" stroke-width="0.15">Inside</text>
<text x="320.30" y="328.70" font-family='"Liberation Serif", serif' font-size="10.8" font-weight="normal" font-style="italic" fill="#000" textLength="35.42" lengthAdjust="spacingAndGlyphs" stroke="#000" stroke-width="0.15">the iron</text>
<text x="321.30" y="337.40" font-family='"Liberation Serif", serif' font-size="10.8" font-weight="normal" font-style="italic" fill="#000" textLength="32.01" lengthAdjust="spacingAndGlyphs" stroke="#000" stroke-width="0.15">bunker</text>
<text x="323.96" y="363.40" font-family='"Liberation Serif", serif' font-size="10.8" font-weight="normal" font-style="italic" fill="#000" textLength="27.93" lengthAdjust="spacingAndGlyphs" stroke="#000" stroke-width="0.15">Inside</text>
<text x="320.30" y="372.50" font-family='"Liberation Serif", serif' font-size="10.8" font-weight="normal" font-style="italic" fill="#000" textLength="35.42" lengthAdjust="spacingAndGlyphs" stroke="#000" stroke-width="0.15">the iron</text>
<text x="321.30" y="381.20" font-family='"Liberation Serif", serif' font-size="10.8" font-weight="normal" font-style="italic" fill="#000" textLength="32.01" lengthAdjust="spacingAndGlyphs" stroke="#000" stroke-width="0.15">bunker</text>
<text x="556.70" y="259.20" font-family='"Liberation Serif", serif' font-size="10.8" font-weight="normal" font-style="italic" fill="#000" textLength="57.52" lengthAdjust="spacingAndGlyphs" stroke="#000" stroke-width="0.15">Venghilrim's</text>
<text x="577.50" y="267.50" font-family='"Liberation Serif", serif' font-size="10.8" font-weight="normal" font-style="italic" fill="#000" textLength="15.74" lengthAdjust="spacingAndGlyphs" stroke="#000" stroke-width="0.15">lair</text>
<text x="603.16" y="290.80" font-family='"Liberation Serif", serif' font-size="10.8" font-weight="normal" font-style="italic" fill="#000" textLength="26.84" lengthAdjust="spacingAndGlyphs" stroke="#000" stroke-width="0.15">portal</text>
<text x="491.42" y="303.00" font-family='"Liberation Serif", serif' font-size="10.8" font-weight="normal" font-style="italic" fill="#000" textLength="62.04" lengthAdjust="spacingAndGlyphs" stroke="#000" stroke-width="0.15">At the back of</text>
<text x="475.80" y="311.30" font-family='"Liberation Serif", serif' font-size="10.8" font-weight="normal" font-style="italic" fill="#000" textLength="93.83" lengthAdjust="spacingAndGlyphs" stroke="#000" stroke-width="0.15">an underwater cave</text>
<text x="423.13" y="328.30" font-family='"Liberation Serif", serif' font-size="10.8" font-weight="normal" font-style="italic" fill="#000" textLength="50.32" lengthAdjust="spacingAndGlyphs" stroke="#000" stroke-width="0.15">A trench at</text>
<text x="397.50" y="337.50" font-family='"Liberation Serif", serif' font-size="10.8" font-weight="normal" font-style="italic" fill="#000" textLength="101.69" lengthAdjust="spacingAndGlyphs" stroke="#000" stroke-width="0.15">the bottom of the lake</text>
<text x="535.96" y="326.10" font-family='"Liberation Serif", serif' font-size="10.8" font-weight="normal" font-style="italic" fill="#000" textLength="42.83" lengthAdjust="spacingAndGlyphs" stroke="#000" stroke-width="0.15">Inside an</text>
<text x="530.50" y="335.10" font-family='"Liberation Serif", serif' font-size="10.8" font-weight="normal" font-style="italic" fill="#000" textLength="53.55" lengthAdjust="spacingAndGlyphs" stroke="#000" stroke-width="0.15">underwater</text>
<text x="547.60" y="344.20" font-family='"Liberation Serif", serif' font-size="10.8" font-weight="normal" font-style="italic" fill="#000" textLength="21.32" lengthAdjust="spacingAndGlyphs" stroke="#000" stroke-width="0.15">cave</text>
<text x="445.20" y="461.70" font-family='"Liberation Serif", serif' font-size="10.8" font-weight="normal" font-style="italic" fill="#000" textLength="136.50" lengthAdjust="spacingAndGlyphs" stroke="#000" stroke-width="0.15">Underwater in Lake Triumph</text>
<text x="127.32" y="505.00" font-family='"Liberation Serif", serif' font-size="10.8" font-weight="normal" font-style="italic" fill="#000" textLength="69.65" lengthAdjust="spacingAndGlyphs" stroke="#000" stroke-width="0.15">At the mouth of</text>
<text x="128.88" y="513.70" font-family='"Liberation Serif", serif' font-size="10.8" font-weight="normal" font-style="italic" fill="#000" textLength="66.41" lengthAdjust="spacingAndGlyphs" stroke="#000" stroke-width="0.15">Lake Triumph</text>
<text x="221.80" y="513.10" font-family='"Liberation Serif", serif' font-size="10.8" font-weight="normal" font-style="italic" fill="#000" textLength="144.50" lengthAdjust="spacingAndGlyphs" stroke="#000" stroke-width="0.15">On the shores of Lake Triumph</text>
<text x="186.90" y="587.50" font-family='"Liberation Serif", serif' font-size="10.8" font-weight="normal" font-style="italic" fill="#000" textLength="81.71" lengthAdjust="spacingAndGlyphs" stroke="#000" stroke-width="0.15">On Lake Triumph</text>
<text x="186.90" y="631.30" font-family='"Liberation Serif", serif' font-size="10.8" font-weight="normal" font-style="italic" fill="#000" textLength="81.71" lengthAdjust="spacingAndGlyphs" stroke="#000" stroke-width="0.15">On Lake Triumph</text>
<text transform="translate(86.00,684.00) rotate(-90)" x="0.00" y="0" font-family='"Liberation Serif", serif' font-size="10.8" font-style="italic" fill="#000" stroke="#000" stroke-width="0.15" textLength="144.30" lengthAdjust="spacingAndGlyphs">On the shores of Lake Triumph</text>
<text transform="translate(377.40,683.70) rotate(-90)" x="0.00" y="0" font-family='"Liberation Serif", serif' font-size="10.8" font-style="italic" fill="#000" stroke="#000" stroke-width="0.15" textLength="144.00" lengthAdjust="spacingAndGlyphs">On the shores of Lake Triumph</text>
<text x="89.30" y="716.10" font-family='"Liberation Serif", serif' font-size="10.8" font-weight="normal" font-style="italic" fill="#000" textLength="144.50" lengthAdjust="spacingAndGlyphs" stroke="#000" stroke-width="0.15">On the shores of Lake Triumph</text>
<text x="241.30" y="716.30" font-family='"Liberation Serif", serif' font-size="10.8" font-weight="normal" font-style="italic" fill="#000" textLength="60.16" lengthAdjust="spacingAndGlyphs" stroke="#000" stroke-width="0.15">The mouth of</text>
<text x="238.10" y="725.00" font-family='"Liberation Serif", serif' font-size="10.8" font-weight="normal" font-style="italic" fill="#000" textLength="68.38" lengthAdjust="spacingAndGlyphs" stroke="#000" stroke-width="0.15">a large stream</text>
<text x="113.30" y="477.50" font-family='"Liberation Serif", serif' font-size="13" font-weight="bold" font-style="italic" fill="#0000ff" textLength="53.41" lengthAdjust="spacingAndGlyphs" stroke="#0000ff" stroke-width="0.35">Triumph</text>
<text x="123.77" y="490.00" font-family='"Liberation Serif", serif' font-size="13" font-weight="bold" font-style="italic" fill="#0000ff" textLength="31.84" lengthAdjust="spacingAndGlyphs" stroke="#0000ff" stroke-width="0.35">River</text>
<text x="279.00" y="477.70" font-family='"Liberation Serif", serif' font-size="13" font-weight="bold" font-style="italic" fill="#0000ff" textLength="73.90" lengthAdjust="spacingAndGlyphs" stroke="#0000ff" stroke-width="0.35">The LeMans</text>
<text x="287.90" y="490.20" font-family='"Liberation Serif", serif' font-size="13" font-weight="bold" font-style="italic" fill="#0000ff" textLength="55.24" lengthAdjust="spacingAndGlyphs" stroke="#0000ff" stroke-width="0.35">Vineyard</text>
<text x="149.05" y="741.20" font-family='"Liberation Serif", serif' font-size="13" font-weight="bold" font-style="italic" fill="#0000ff" textLength="68.05" lengthAdjust="spacingAndGlyphs" stroke="#0000ff" stroke-width="0.35">Highways /</text>
<text x="150.70" y="753.90" font-family='"Liberation Serif", serif' font-size="13" font-weight="bold" font-style="italic" fill="#0000ff" textLength="65.23" lengthAdjust="spacingAndGlyphs" stroke="#0000ff" stroke-width="0.35">Great Wall</text>
<text x="245.30" y="740.60" font-family='"Liberation Serif", serif' font-size="13" font-weight="bold" font-style="italic" fill="#0000ff" textLength="53.51" lengthAdjust="spacingAndGlyphs" stroke="#0000ff" stroke-width="0.35">Triumph</text>
<text x="256.37" y="753.80" font-family='"Liberation Serif", serif' font-size="13" font-weight="bold" font-style="italic" fill="#0000ff" textLength="31.24" lengthAdjust="spacingAndGlyphs" stroke="#0000ff" stroke-width="0.35">River</text>
<g>
<path d="M536.5,615 V603" stroke="#000" stroke-width="2.2"/>
<path d="M536.5,594.5 C539.5,599 539.5,603 536.5,605.5 C533.5,603 533.5,599 536.5,594.5 Z" fill="#000"/>
<path d="M535.5,604.5 C532.5,600 528.0,602 529.0,606 C530.0,604.5 532.5,604.5 535.5,607.5 Z" fill="#000"/>
<path d="M537.5,604.5 C540.5,600 545.0,602 544.0,606 C543.0,604.5 540.5,604.5 537.5,607.5 Z" fill="#000"/>
<path d="M533.0,607.5 H540.0" stroke="#000" stroke-width="1.6"/>
<path d="M488.5,655 H497.5 M575.5,655 H584.5 M536.5,694 V703" stroke="#000" stroke-width="1.8"/>
<path d="M484.0,655 l7,-4 l-1.5,4 l1.5,4 Z" fill="#000"/>
<path d="M588.5,655 l-7,-4 l1.5,4 l-1.5,4 Z" fill="#000"/>
<path d="M536.5,706.5 l-4,-7 l4,1.5 l4,-1.5 Z" fill="#000"/>
<path d="M495.5,650 l-4,5 l4,5 M577.5,650 l4,5 l-4,5 M531.5,696 l5,4 l5,-4" fill="none" stroke="#000" stroke-width="1.6"/>
<circle cx="536.5" cy="655" r="42" fill="#00004e" stroke="#000" stroke-width="1.5"/>
<clipPath id="cc"><circle cx="536.5" cy="655" r="39"/></clipPath><g clip-path="url(#cc)">
<path d="M514.5,658.7 Q514.3,662.9 513.5,666.2" stroke="#000c60" stroke-width="1.5" fill="none"/>
<path d="M533.9,659.3 Q534.4,662.2 532.3,665.4" stroke="#00188c" stroke-width="1.3" fill="none"/>
<path d="M507.2,666.3 Q505.1,673.0 506.8,677.4" stroke="#000c60" stroke-width="0.9" fill="none"/>
<path d="M574.9,616.6 Q572.8,622.3 571.0,626.3" stroke="#001478" stroke-width="1.5" fill="none"/>
<path d="M554.5,690.4 Q555.0,692.5 551.7,697.6" stroke="#0848c8" stroke-width="1.1" fill="none"/>
<path d="M497.5,654.6 Q498.2,657.6 496.1,661.2" stroke="#000c60" stroke-width="1.5" fill="none"/>
<path d="M542.7,657.9 Q544.7,663.3 545.2,665.3" stroke="#001478" stroke-width="1.5" fill="none"/>
<path d="M577.7,669.4 Q578.1,672.5 575.2,675.0" stroke="#00188c" stroke-width="1.4" fill="none"/>
<path d="M512.2,682.9 Q513.3,687.8 514.5,691.6" stroke="#0020a0" stroke-width="1.2" fill="none"/>
<path d="M523.4,618.6 Q527.5,624.8 529.5,628.1" stroke="#0848c8" stroke-width="0.8" fill="none"/>
<path d="M546.1,616.8 Q547.2,623.7 548.1,626.6" stroke="#001478" stroke-width="1.0" fill="none"/>
<path d="M501.0,663.4 Q501.1,664.9 502.8,668.3" stroke="#0848c8" stroke-width="1.4" fill="none"/>
<path d="M576.8,641.5 Q577.9,646.4 580.0,648.4" stroke="#0848c8" stroke-width="1.1" fill="none"/>
<path d="M567.3,670.2 Q564.9,673.1 564.2,675.0" stroke="#00188c" stroke-width="1.4" fill="none"/>
<path d="M573.2,649.7 Q572.0,652.7 574.8,656.4" stroke="#001478" stroke-width="1.3" fill="none"/>
<path d="M496.2,664.7 Q497.9,668.2 500.9,672.9" stroke="#000c60" stroke-width="1.5" fill="none"/>
<path d="M545.6,636.4 Q543.3,640.1 544.7,644.8" stroke="#000c60" stroke-width="1.3" fill="none"/>
<path d="M519.6,663.5 Q522.1,665.5 521.9,669.3" stroke="#001478" stroke-width="1.4" fill="none"/>
<path d="M503.3,681.3 Q501.3,685.9 500.7,692.8" stroke="#0030b8" stroke-width="1.4" fill="none"/>
<path d="M514.6,628.7 Q514.0,634.4 512.7,636.6" stroke="#0020a0" stroke-width="1.3" fill="none"/>
<path d="M513.4,681.0 Q516.8,687.7 519.0,691.3" stroke="#000c60" stroke-width="1.2" fill="none"/>
<path d="M513.4,623.2 Q513.7,626.3 516.6,631.3" stroke="#00188c" stroke-width="1.4" fill="none"/>
<path d="M548.4,680.7 Q550.1,685.5 551.6,687.4" stroke="#001478" stroke-width="1.2" fill="none"/>
<path d="M547.8,637.4 Q548.8,639.2 552.5,645.0" stroke="#0848c8" stroke-width="1.6" fill="none"/>
<path d="M568.4,695.9 Q565.2,700.3 564.3,702.8" stroke="#000c60" stroke-width="1.5" fill="none"/>
<path d="M550.2,656.6 Q552.3,661.5 551.5,663.5" stroke="#0030b8" stroke-width="1.6" fill="none"/>
<path d="M504.6,633.5 Q505.3,637.6 502.7,638.4" stroke="#00188c" stroke-width="1.5" fill="none"/>
<path d="M543.0,614.1 Q543.9,616.9 546.9,623.5" stroke="#001478" stroke-width="1.2" fill="none"/>
<path d="M499.0,689.7 Q500.1,693.4 501.5,694.9" stroke="#00188c" stroke-width="1.1" fill="none"/>
<path d="M511.1,657.9 Q514.8,664.1 515.2,667.8" stroke="#001478" stroke-width="1.5" fill="none"/>
<path d="M495.1,665.8 Q497.0,671.0 500.8,675.3" stroke="#001478" stroke-width="1.2" fill="none"/>
<path d="M498.8,640.1 Q494.7,643.2 494.3,649.9" stroke="#0030b8" stroke-width="1.2" fill="none"/>
<path d="M497.3,672.9 Q496.6,676.6 497.4,681.5" stroke="#0030b8" stroke-width="1.3" fill="none"/>
<path d="M543.8,643.3 Q542.9,644.4 545.1,649.5" stroke="#0020a0" stroke-width="1.4" fill="none"/>
<path d="M561.3,660.6 Q562.6,662.8 561.6,665.9" stroke="#000c60" stroke-width="1.4" fill="none"/>
<path d="M546.8,649.3 Q546.1,654.9 546.9,656.9" stroke="#000c60" stroke-width="1.1" fill="none"/>
<path d="M496.0,631.4 Q494.5,633.3 495.3,638.2" stroke="#0848c8" stroke-width="0.8" fill="none"/>
<path d="M521.8,694.4 Q519.8,696.9 518.0,702.4" stroke="#0020a0" stroke-width="1.5" fill="none"/>
<path d="M550.1,687.5 Q548.4,692.8 548.0,697.9" stroke="#000c60" stroke-width="1.4" fill="none"/>
<path d="M554.7,652.8 Q553.5,654.5 555.6,659.4" stroke="#00188c" stroke-width="1.5" fill="none"/>
<path d="M509.5,615.0 Q512.6,621.2 514.3,624.8" stroke="#0020a0" stroke-width="1.6" fill="none"/>
<path d="M543.1,680.1 Q542.4,681.5 541.5,685.1" stroke="#00188c" stroke-width="1.2" fill="none"/>
<path d="M502.9,659.5 Q502.3,662.4 499.1,667.5" stroke="#0030b8" stroke-width="0.9" fill="none"/>
<path d="M515.5,664.7 Q516.5,671.6 516.8,674.9" stroke="#001478" stroke-width="1.2" fill="none"/>
<path d="M575.7,644.5 Q575.9,647.1 572.4,650.3" stroke="#000c60" stroke-width="1.3" fill="none"/>
<path d="M543.2,690.6 Q546.8,693.7 547.1,699.6" stroke="#0848c8" stroke-width="0.9" fill="none"/>
<path d="M557.3,690.0 Q559.1,692.8 557.9,698.6" stroke="#000c60" stroke-width="1.4" fill="none"/>
<path d="M506.8,656.3 Q506.3,660.8 502.1,666.8" stroke="#00188c" stroke-width="1.4" fill="none"/>
<path d="M529.2,684.7 Q529.7,688.1 531.7,693.4" stroke="#0030b8" stroke-width="1.4" fill="none"/>
<path d="M511.4,660.9 Q511.1,665.0 511.5,667.5" stroke="#0030b8" stroke-width="1.4" fill="none"/>
<path d="M511.8,661.8 Q510.7,668.2 509.7,672.9" stroke="#0020a0" stroke-width="1.5" fill="none"/>
<path d="M528.1,674.6 Q529.9,681.1 528.6,686.3" stroke="#0030b8" stroke-width="1.4" fill="none"/>
<path d="M500.3,631.3 Q497.3,634.8 497.3,637.3" stroke="#001478" stroke-width="1.3" fill="none"/>
<path d="M497.6,691.4 Q498.9,695.0 500.8,696.7" stroke="#0030b8" stroke-width="0.9" fill="none"/>
<path d="M502.3,683.1 Q503.8,685.9 503.5,690.0" stroke="#00188c" stroke-width="0.8" fill="none"/>
<path d="M522.3,644.9 Q523.7,647.2 521.4,650.4" stroke="#000c60" stroke-width="1.2" fill="none"/>
<path d="M504.5,636.1 Q508.3,638.8 508.8,644.7" stroke="#00188c" stroke-width="1.6" fill="none"/>
<path d="M525.9,677.9 Q527.9,684.7 528.4,687.9" stroke="#000c60" stroke-width="1.5" fill="none"/>
<path d="M503.5,692.3 Q501.7,696.0 502.9,699.7" stroke="#00188c" stroke-width="1.1" fill="none"/>
<path d="M554.8,670.0 Q557.4,672.8 558.2,678.3" stroke="#000c60" stroke-width="1.1" fill="none"/>
<path d="M571.8,651.2 Q572.2,654.6 571.4,656.9" stroke="#001478" stroke-width="1.1" fill="none"/>
<path d="M519.7,628.7 Q516.6,633.5 517.0,636.6" stroke="#000c60" stroke-width="1.4" fill="none"/>
<path d="M540.1,675.1 Q539.4,677.3 542.2,682.3" stroke="#0848c8" stroke-width="1.2" fill="none"/>
<path d="M517.3,671.4 Q515.2,676.5 513.5,679.2" stroke="#0848c8" stroke-width="0.9" fill="none"/>
<path d="M536.3,696.6 Q534.5,700.8 535.7,702.7" stroke="#000c60" stroke-width="1.4" fill="none"/>
<path d="M510.0,628.9 Q507.4,633.1 507.7,636.5" stroke="#000c60" stroke-width="1.5" fill="none"/>
<path d="M561.5,658.8 Q562.2,660.8 563.9,664.5" stroke="#001478" stroke-width="1.5" fill="none"/>
<path d="M531.9,647.2 Q532.3,652.4 534.2,657.6" stroke="#00188c" stroke-width="1.2" fill="none"/>
<path d="M553.9,688.2 Q557.4,690.3 559.1,696.4" stroke="#0030b8" stroke-width="1.4" fill="none"/>
<path d="M550.1,654.3 Q551.4,657.5 550.5,663.0" stroke="#0030b8" stroke-width="1.5" fill="none"/>
<path d="M572.3,692.5 Q574.6,693.9 573.8,698.1" stroke="#000c60" stroke-width="1.4" fill="none"/>
<path d="M546.9,617.3 Q548.0,618.9 549.2,624.4" stroke="#0020a0" stroke-width="1.1" fill="none"/>
<path d="M522.1,641.9 Q525.6,644.3 526.8,650.5" stroke="#00188c" stroke-width="0.9" fill="none"/>
<path d="M578.0,696.8 Q579.4,700.6 581.2,702.4" stroke="#0030b8" stroke-width="1.2" fill="none"/>
<path d="M503.7,616.6 Q504.2,619.1 505.6,621.8" stroke="#0030b8" stroke-width="0.9" fill="none"/>
<path d="M566.1,630.5 Q569.4,633.7 570.6,637.6" stroke="#0848c8" stroke-width="0.9" fill="none"/>
<path d="M570.1,673.5 Q570.1,676.8 571.2,680.9" stroke="#00188c" stroke-width="1.6" fill="none"/>
<path d="M562.1,634.7 Q559.3,637.0 558.9,641.6" stroke="#00188c" stroke-width="0.9" fill="none"/>
<path d="M528.4,627.1 Q529.4,628.2 530.8,631.8" stroke="#0030b8" stroke-width="1.5" fill="none"/>
<path d="M528.4,639.7 Q527.3,641.8 527.0,644.8" stroke="#0030b8" stroke-width="0.8" fill="none"/>
<path d="M575.6,631.4 Q575.0,632.7 575.8,637.0" stroke="#0030b8" stroke-width="1.5" fill="none"/>
<path d="M544.4,680.8 Q543.7,685.6 540.6,686.7" stroke="#0848c8" stroke-width="1.2" fill="none"/>
<path d="M541.6,615.5 Q538.0,619.3 537.5,621.6" stroke="#001478" stroke-width="1.6" fill="none"/>
<path d="M544.2,613.3 Q545.5,615.5 546.7,617.9" stroke="#0030b8" stroke-width="1.0" fill="none"/>
<path d="M537.3,640.8 Q536.8,647.9 533.9,651.6" stroke="#001478" stroke-width="1.6" fill="none"/>
<path d="M497.4,638.6 Q496.8,641.3 492.7,646.5" stroke="#0020a0" stroke-width="1.1" fill="none"/>
<path d="M537.1,659.0 Q534.4,664.1 534.3,667.2" stroke="#0848c8" stroke-width="1.4" fill="none"/>
<path d="M564.7,659.5 Q565.4,664.9 566.6,670.8" stroke="#0848c8" stroke-width="1.4" fill="none"/>
<path d="M523.5,682.0 Q523.0,687.8 520.9,690.1" stroke="#000c60" stroke-width="0.8" fill="none"/>
<path d="M508.9,676.1 Q512.2,679.3 514.0,685.6" stroke="#000c60" stroke-width="1.0" fill="none"/>
<path d="M565.4,667.0 Q562.8,673.5 560.6,677.0" stroke="#0848c8" stroke-width="1.3" fill="none"/>
<path d="M578.2,613.1 Q576.5,615.4 576.1,619.1" stroke="#0020a0" stroke-width="1.2" fill="none"/>
<path d="M563.5,630.7 Q559.5,636.7 558.2,638.9" stroke="#000c60" stroke-width="0.9" fill="none"/>
<path d="M518.7,630.5 Q519.7,636.4 518.4,641.5" stroke="#00188c" stroke-width="1.4" fill="none"/>
<path d="M539.5,628.8 Q541.4,633.0 542.5,634.3" stroke="#0020a0" stroke-width="0.9" fill="none"/>
<path d="M573.7,634.4 Q574.5,637.9 574.4,640.1" stroke="#000c60" stroke-width="1.4" fill="none"/>
<path d="M567.7,642.1 Q567.2,648.4 568.3,651.3" stroke="#0020a0" stroke-width="1.2" fill="none"/>
<path d="M526.4,622.8 Q525.3,624.7 527.6,627.7" stroke="#000c60" stroke-width="1.2" fill="none"/>
<path d="M500.5,659.4 Q499.2,664.6 501.4,669.5" stroke="#000c60" stroke-width="1.0" fill="none"/>
<path d="M564.9,618.2 Q564.0,620.2 565.4,624.9" stroke="#001478" stroke-width="1.5" fill="none"/>
<path d="M555.5,686.5 Q554.9,692.1 553.9,698.3" stroke="#000c60" stroke-width="1.6" fill="none"/>
<path d="M570.4,692.8 Q568.9,697.1 567.7,700.7" stroke="#0848c8" stroke-width="0.8" fill="none"/>
<path d="M574.9,614.5 Q577.1,619.3 581.0,624.0" stroke="#0030b8" stroke-width="1.3" fill="none"/>
<path d="M497.9,675.6 Q498.1,677.8 498.5,682.5" stroke="#001478" stroke-width="1.4" fill="none"/>
<path d="M506.5,650.3 Q505.5,657.0 507.3,661.6" stroke="#0030b8" stroke-width="1.4" fill="none"/>
<path d="M576.5,695.3 Q577.1,702.6 578.2,706.3" stroke="#0030b8" stroke-width="1.2" fill="none"/>
<path d="M578.4,631.7 Q579.7,638.9 581.3,643.0" stroke="#0020a0" stroke-width="1.4" fill="none"/>
<path d="M519.5,633.4 Q523.0,636.4 525.4,642.2" stroke="#0030b8" stroke-width="0.8" fill="none"/>
<path d="M574.3,613.2 Q574.2,619.9 570.2,624.3" stroke="#001478" stroke-width="1.6" fill="none"/>
<path d="M497.5,628.5 Q499.0,631.5 497.9,633.6" stroke="#001478" stroke-width="1.4" fill="none"/>
<path d="M532.3,635.0 Q531.4,638.0 532.3,644.7" stroke="#000c60" stroke-width="1.1" fill="none"/>
<path d="M547.2,669.7 Q547.0,676.0 543.1,680.3" stroke="#0030b8" stroke-width="1.5" fill="none"/>
<path d="M529.1,676.0 Q529.4,677.4 532.3,682.7" stroke="#0020a0" stroke-width="1.3" fill="none"/>
<path d="M569.8,689.1 Q569.1,692.7 568.2,697.2" stroke="#00188c" stroke-width="1.3" fill="none"/>
<path d="M519.2,619.2 Q517.6,621.4 516.9,624.7" stroke="#0020a0" stroke-width="1.2" fill="none"/>
<path d="M561.9,651.0 Q562.9,654.5 566.7,661.7" stroke="#001478" stroke-width="1.2" fill="none"/>
<path d="M513.9,651.5 Q515.4,656.1 516.3,660.3" stroke="#001478" stroke-width="1.2" fill="none"/>
<path d="M518.0,672.6 Q518.9,675.8 523.2,682.7" stroke="#000c60" stroke-width="1.2" fill="none"/>
<path d="M557.7,682.4 Q557.4,685.9 559.5,690.4" stroke="#001478" stroke-width="1.5" fill="none"/>
<path d="M521.1,635.8 Q518.5,641.0 515.1,645.8" stroke="#001478" stroke-width="0.8" fill="none"/>
<path d="M529.6,647.7 Q530.5,654.2 529.6,659.0" stroke="#0030b8" stroke-width="0.9" fill="none"/>
<path d="M547.6,623.4 Q547.1,629.0 542.8,633.1" stroke="#001478" stroke-width="1.1" fill="none"/>
<path d="M577.2,651.8 Q575.8,657.1 576.7,658.8" stroke="#0030b8" stroke-width="0.9" fill="none"/>
<path d="M570.6,627.9 Q567.4,633.4 568.1,639.6" stroke="#000c60" stroke-width="0.9" fill="none"/>
<path d="M547.1,639.1 Q547.4,645.3 551.2,647.7" stroke="#0030b8" stroke-width="1.2" fill="none"/>
<path d="M526.6,622.0 Q522.9,623.7 522.4,628.4" stroke="#001478" stroke-width="1.0" fill="none"/>
<path d="M526.7,691.8 Q526.2,697.8 522.1,699.8" stroke="#0020a0" stroke-width="1.6" fill="none"/>
<path d="M515.2,642.8 Q516.7,648.5 515.4,654.4" stroke="#000c60" stroke-width="1.4" fill="none"/>
<path d="M539.1,684.7 Q539.7,688.5 540.0,692.8" stroke="#00188c" stroke-width="1.2" fill="none"/>
<path d="M564.5,629.8 Q560.9,635.7 559.9,637.8" stroke="#000c60" stroke-width="1.5" fill="none"/>
<path d="M508.6,635.3 Q509.9,639.6 511.9,640.9" stroke="#0020a0" stroke-width="0.9" fill="none"/>
<path d="M495.7,686.1 Q492.2,691.2 489.8,694.8" stroke="#000c60" stroke-width="1.0" fill="none"/>
<path d="M533.4,661.8 Q532.3,665.4 532.6,669.0" stroke="#0030b8" stroke-width="1.1" fill="none"/>
<path d="M521.2,643.1 Q520.2,648.3 516.2,650.8" stroke="#001478" stroke-width="1.0" fill="none"/>
<path d="M576.5,635.7 Q578.5,639.5 576.5,641.5" stroke="#000c60" stroke-width="1.0" fill="none"/>
<path d="M531.0,635.4 Q533.5,638.4 532.2,641.2" stroke="#0030b8" stroke-width="1.2" fill="none"/>
<path d="M546.4,618.8 Q543.0,623.9 543.2,626.1" stroke="#001478" stroke-width="1.1" fill="none"/>
<path d="M576.9,643.8 Q576.5,648.5 576.5,650.3" stroke="#0020a0" stroke-width="1.4" fill="none"/>
<path d="M524.9,638.3 Q527.0,643.2 525.9,646.7" stroke="#001478" stroke-width="0.9" fill="none"/>
<path d="M536.1,640.2 Q535.9,640.7 538.6,644.5" stroke="#0020a0" stroke-width="1.1" fill="none"/>
<path d="M518.3,615.5 Q515.9,618.8 514.0,623.2" stroke="#00188c" stroke-width="1.4" fill="none"/>
<path d="M561.8,630.9 Q562.9,634.1 561.0,638.2" stroke="#00188c" stroke-width="1.2" fill="none"/>
<path d="M569.3,637.1 Q569.6,639.7 566.9,642.9" stroke="#00188c" stroke-width="1.4" fill="none"/>
<path d="M526.7,654.2 Q526.4,660.2 527.0,666.1" stroke="#0030b8" stroke-width="1.1" fill="none"/>
<path d="M547.3,668.4 Q549.9,670.3 551.1,675.6" stroke="#000c60" stroke-width="1.2" fill="none"/>
<path d="M557.8,696.3 Q561.0,699.1 560.8,700.9" stroke="#0848c8" stroke-width="0.9" fill="none"/>
<path d="M549.9,667.1 Q550.6,672.0 553.6,677.7" stroke="#001478" stroke-width="0.9" fill="none"/>
<path d="M548.4,615.2 Q549.5,619.7 548.0,626.8" stroke="#00188c" stroke-width="1.5" fill="none"/>
<path d="M563.7,690.1 Q565.1,694.1 565.2,697.8" stroke="#0848c8" stroke-width="1.0" fill="none"/>
<path d="M519.6,688.6 Q519.5,690.8 519.4,694.5" stroke="#00188c" stroke-width="1.5" fill="none"/>
<path d="M543.6,673.7 Q543.6,677.3 544.2,682.3" stroke="#000c60" stroke-width="1.0" fill="none"/>
<path d="M567.7,631.1 Q566.7,635.8 562.3,640.5" stroke="#0020a0" stroke-width="1.5" fill="none"/>
<path d="M521.0,676.4 Q523.4,678.1 523.2,683.4" stroke="#000c60" stroke-width="1.1" fill="none"/>
<path d="M527.2,627.9 Q530.0,632.1 529.1,634.4" stroke="#000c60" stroke-width="1.0" fill="none"/>
<path d="M520.0,627.5 Q518.9,631.3 520.1,633.7" stroke="#0030b8" stroke-width="1.3" fill="none"/>
<path d="M509.3,676.1 Q507.8,679.2 508.9,683.8" stroke="#00188c" stroke-width="1.1" fill="none"/>
<path d="M501.1,658.1 Q502.4,663.1 505.6,664.9" stroke="#0030b8" stroke-width="1.3" fill="none"/>
<path d="M513.1,681.7 Q514.2,686.2 515.3,693.4" stroke="#00188c" stroke-width="1.4" fill="none"/>
<path d="M523.0,674.5 Q523.6,677.8 527.1,682.6" stroke="#00188c" stroke-width="1.3" fill="none"/>
<path d="M507.3,690.4 Q510.5,692.5 511.2,696.9" stroke="#001478" stroke-width="0.9" fill="none"/>
<path d="M558.4,659.4 Q557.0,664.5 555.2,665.8" stroke="#001478" stroke-width="1.5" fill="none"/>
<path d="M557.3,637.5 Q557.9,639.6 556.3,642.4" stroke="#000c60" stroke-width="1.1" fill="none"/>
<path d="M509.7,637.8 Q506.9,640.9 507.3,643.6" stroke="#000c60" stroke-width="1.1" fill="none"/>
<path d="M555.4,627.5 Q557.0,630.6 558.2,634.7" stroke="#0848c8" stroke-width="1.4" fill="none"/>
<path d="M545.4,672.0 Q543.2,675.1 544.2,678.0" stroke="#0020a0" stroke-width="1.5" fill="none"/>
<path d="M567.5,656.3 Q570.1,658.6 571.3,663.1" stroke="#001478" stroke-width="1.0" fill="none"/>
<path d="M512.3,622.2 Q515.7,624.5 515.4,629.2" stroke="#001478" stroke-width="1.3" fill="none"/>
<path d="M537.4,629.8 Q536.5,634.1 533.8,635.2" stroke="#001478" stroke-width="0.9" fill="none"/>
<path d="M553.6,676.0 Q553.1,680.4 553.9,682.6" stroke="#0020a0" stroke-width="0.9" fill="none"/>
<path d="M550.5,635.6 Q552.2,639.9 551.8,644.1" stroke="#0848c8" stroke-width="1.3" fill="none"/>
<path d="M530.4,680.6 Q531.8,682.6 530.1,687.4" stroke="#00188c" stroke-width="0.8" fill="none"/>
<path d="M530.7,613.1 Q534.8,619.3 535.3,622.6" stroke="#000c60" stroke-width="1.4" fill="none"/>
<path d="M525.8,616.7 Q523.3,619.5 523.2,625.2" stroke="#001478" stroke-width="1.6" fill="none"/>
<path d="M556.6,653.7 Q558.0,659.6 560.8,663.0" stroke="#00188c" stroke-width="1.4" fill="none"/>
<path d="M516.3,620.3 Q513.7,621.3 515.1,625.7" stroke="#0020a0" stroke-width="1.4" fill="none"/>
<path d="M527.3,651.3 Q525.2,658.5 525.7,663.1" stroke="#001478" stroke-width="0.9" fill="none"/>
<path d="M551.8,647.9 Q551.6,652.2 552.8,652.8" stroke="#000c60" stroke-width="0.9" fill="none"/>
<path d="M561.9,645.6 Q563.1,651.4 562.6,656.2" stroke="#000c60" stroke-width="1.2" fill="none"/>
<path d="M514.4,613.5 Q514.1,615.7 517.0,619.4" stroke="#0848c8" stroke-width="1.3" fill="none"/>
<path d="M540.3,663.2 Q542.6,665.0 544.1,669.1" stroke="#0020a0" stroke-width="1.2" fill="none"/>
<path d="M537.4,666.8 Q537.1,673.0 539.1,678.6" stroke="#000c60" stroke-width="1.3" fill="none"/>
<path d="M561.7,627.9 Q563.3,632.3 561.4,636.1" stroke="#001478" stroke-width="1.3" fill="none"/>
<path d="M531.3,623.6 Q533.8,628.3 536.0,634.7" stroke="#001478" stroke-width="0.9" fill="none"/>
<path d="M500.2,680.4 Q496.7,685.1 497.0,690.1" stroke="#0020a0" stroke-width="0.8" fill="none"/>
<path d="M554.0,686.0 Q556.1,692.1 559.9,695.7" stroke="#000c60" stroke-width="1.2" fill="none"/>
<path d="M559.9,680.4 Q561.5,682.1 559.4,687.5" stroke="#0848c8" stroke-width="1.6" fill="none"/>
<path d="M510.6,620.0 Q510.4,625.6 510.2,630.2" stroke="#000c60" stroke-width="0.9" fill="none"/>
<path d="M551.1,656.0 Q553.8,660.9 557.7,665.8" stroke="#0020a0" stroke-width="0.9" fill="none"/>
<path d="M550.5,641.0 Q551.3,644.3 551.3,651.4" stroke="#001478" stroke-width="1.0" fill="none"/>
<path d="M556.5,634.7 Q556.1,637.7 558.9,642.6" stroke="#001478" stroke-width="1.2" fill="none"/>
<path d="M529.8,676.3 Q528.2,681.6 528.6,686.2" stroke="#000c60" stroke-width="1.3" fill="none"/>
<path d="M514.8,628.3 Q515.7,630.6 516.9,633.5" stroke="#00188c" stroke-width="1.1" fill="none"/>
<path d="M543.0,644.7 Q543.3,650.9 544.7,655.3" stroke="#0848c8" stroke-width="1.0" fill="none"/>
<path d="M512.9,632.2 Q512.2,636.7 512.1,638.5" stroke="#000c60" stroke-width="1.3" fill="none"/>
<path d="M528.2,653.2 Q526.7,657.0 527.6,661.7" stroke="#00188c" stroke-width="1.3" fill="none"/>
<path d="M554.6,689.9 Q551.5,694.0 551.7,695.5" stroke="#000c60" stroke-width="1.1" fill="none"/>
<path d="M537.6,622.7 Q538.7,623.9 539.5,628.1" stroke="#001478" stroke-width="1.1" fill="none"/>
<path d="M577.8,626.2 Q576.3,630.9 576.3,636.0" stroke="#0848c8" stroke-width="1.5" fill="none"/>
<path d="M515.8,614.5 Q516.0,618.7 518.4,625.9" stroke="#0848c8" stroke-width="1.0" fill="none"/>
<path d="M511.9,645.7 Q508.4,652.3 507.1,655.6" stroke="#001478" stroke-width="1.1" fill="none"/>
<path d="M520.0,631.1 Q517.7,636.1 519.3,639.9" stroke="#0848c8" stroke-width="1.5" fill="none"/>
<path d="M514.7,625.2 Q513.7,627.8 514.0,632.1" stroke="#001478" stroke-width="1.1" fill="none"/>
<path d="M512.7,629.8 Q510.8,632.4 509.6,638.6" stroke="#0848c8" stroke-width="1.5" fill="none"/>
<path d="M516.8,637.2 Q518.1,643.3 520.9,648.1" stroke="#0030b8" stroke-width="0.9" fill="none"/>
<path d="M570.0,646.5 Q568.2,651.1 568.6,653.8" stroke="#00188c" stroke-width="1.3" fill="none"/>
<path d="M504.8,627.6 Q503.6,629.6 503.9,634.7" stroke="#0030b8" stroke-width="1.1" fill="none"/>
<path d="M540.1,647.2 Q540.8,651.6 542.0,654.3" stroke="#0848c8" stroke-width="1.6" fill="none"/>
<path d="M508.6,613.1 Q508.6,619.6 510.3,623.4" stroke="#0848c8" stroke-width="1.0" fill="none"/>
<path d="M533.2,652.7 Q531.2,657.8 530.5,662.2" stroke="#00188c" stroke-width="1.2" fill="none"/>
<path d="M495.4,619.2 Q494.9,624.1 497.6,626.0" stroke="#00188c" stroke-width="0.9" fill="none"/>
<path d="M561.3,634.9 Q562.5,639.2 561.0,640.4" stroke="#0030b8" stroke-width="1.6" fill="none"/>
<path d="M499.0,644.8 Q497.5,647.5 497.2,650.3" stroke="#0848c8" stroke-width="0.8" fill="none"/>
<path d="M533.2,649.5 Q533.4,652.4 530.4,658.6" stroke="#0020a0" stroke-width="0.9" fill="none"/>
<path d="M564.2,636.6 Q565.0,640.4 569.4,644.7" stroke="#0030b8" stroke-width="0.9" fill="none"/>
<path d="M569.2,673.8 Q568.7,676.7 569.7,681.0" stroke="#00188c" stroke-width="1.6" fill="none"/>
<path d="M566.7,672.0 Q569.1,676.8 572.0,679.9" stroke="#00188c" stroke-width="1.1" fill="none"/>
<path d="M538.1,647.5 Q539.0,650.7 536.9,655.7" stroke="#001478" stroke-width="1.0" fill="none"/>
<path d="M508.4,688.5 Q510.5,692.7 509.4,696.5" stroke="#00188c" stroke-width="1.0" fill="none"/>
<path d="M523.5,676.1 Q525.6,680.1 524.4,682.2" stroke="#0030b8" stroke-width="1.3" fill="none"/>
<path d="M528.5,693.5 Q530.3,695.3 531.2,701.1" stroke="#0020a0" stroke-width="1.4" fill="none"/>
</g>
<circle cx="576.3" cy="655.0" r="0.95" fill="#f0e040"/>
<circle cx="575.8" cy="661.2" r="0.95" fill="#f0e040"/>
<circle cx="574.4" cy="667.3" r="0.95" fill="#f0e040"/>
<circle cx="572.0" cy="673.1" r="0.95" fill="#f0e040"/>
<circle cx="568.7" cy="678.4" r="0.95" fill="#f0e040"/>
<circle cx="564.6" cy="683.1" r="0.95" fill="#f0e040"/>
<circle cx="559.9" cy="687.2" r="0.95" fill="#f0e040"/>
<circle cx="554.6" cy="690.5" r="0.95" fill="#f0e040"/>
<circle cx="548.8" cy="692.9" r="0.95" fill="#f0e040"/>
<circle cx="542.7" cy="694.3" r="0.95" fill="#f0e040"/>
<circle cx="536.5" cy="694.8" r="0.95" fill="#f0e040"/>
<circle cx="530.3" cy="694.3" r="0.95" fill="#f0e040"/>
<circle cx="524.2" cy="692.9" r="0.95" fill="#f0e040"/>
<circle cx="518.4" cy="690.5" r="0.95" fill="#f0e040"/>
<circle cx="513.1" cy="687.2" r="0.95" fill="#f0e040"/>
<circle cx="508.4" cy="683.1" r="0.95" fill="#f0e040"/>
<circle cx="504.3" cy="678.4" r="0.95" fill="#f0e040"/>
<circle cx="501.0" cy="673.1" r="0.95" fill="#f0e040"/>
<circle cx="498.6" cy="667.3" r="0.95" fill="#f0e040"/>
<circle cx="497.2" cy="661.2" r="0.95" fill="#f0e040"/>
<circle cx="496.7" cy="655.0" r="0.95" fill="#f0e040"/>
<circle cx="497.2" cy="648.8" r="0.95" fill="#f0e040"/>
<circle cx="498.6" cy="642.7" r="0.95" fill="#f0e040"/>
<circle cx="501.0" cy="636.9" r="0.95" fill="#f0e040"/>
<circle cx="504.3" cy="631.6" r="0.95" fill="#f0e040"/>
<circle cx="508.4" cy="626.9" r="0.95" fill="#f0e040"/>
<circle cx="513.1" cy="622.8" r="0.95" fill="#f0e040"/>
<circle cx="518.4" cy="619.5" r="0.95" fill="#f0e040"/>
<circle cx="524.2" cy="617.1" r="0.95" fill="#f0e040"/>
<circle cx="530.3" cy="615.7" r="0.95" fill="#f0e040"/>
<circle cx="536.5" cy="615.2" r="0.95" fill="#f0e040"/>
<circle cx="542.7" cy="615.7" r="0.95" fill="#f0e040"/>
<circle cx="548.8" cy="617.1" r="0.95" fill="#f0e040"/>
<circle cx="554.6" cy="619.5" r="0.95" fill="#f0e040"/>
<circle cx="559.9" cy="622.8" r="0.95" fill="#f0e040"/>
<circle cx="564.6" cy="626.9" r="0.95" fill="#f0e040"/>
<circle cx="568.7" cy="631.6" r="0.95" fill="#f0e040"/>
<circle cx="572.0" cy="636.9" r="0.95" fill="#f0e040"/>
<circle cx="574.4" cy="642.7" r="0.95" fill="#f0e040"/>
<circle cx="575.8" cy="648.8" r="0.95" fill="#f0e040"/>
<path d="M536.5,655 L535.0,658.7 L562.4,665.7 Z" fill="#a848e8"/>
<path d="M536.5,655 L538.0,651.3 L562.4,665.7 Z" fill="#9038d0"/>
<path d="M536.5,655 L532.8,656.5 L547.2,680.9 Z" fill="#a848e8"/>
<path d="M536.5,655 L540.2,653.5 L547.2,680.9 Z" fill="#9038d0"/>
<path d="M536.5,655 L532.8,653.5 L525.8,680.9 Z" fill="#a848e8"/>
<path d="M536.5,655 L540.2,656.5 L525.8,680.9 Z" fill="#9038d0"/>
<path d="M536.5,655 L535.0,651.3 L510.6,665.7 Z" fill="#a848e8"/>
<path d="M536.5,655 L538.0,658.7 L510.6,665.7 Z" fill="#9038d0"/>
<path d="M536.5,655 L538.0,651.3 L510.6,644.3 Z" fill="#a848e8"/>
<path d="M536.5,655 L535.0,658.7 L510.6,644.3 Z" fill="#9038d0"/>
<path d="M536.5,655 L540.2,653.5 L525.8,629.1 Z" fill="#a848e8"/>
<path d="M536.5,655 L532.8,656.5 L525.8,629.1 Z" fill="#9038d0"/>
<path d="M536.5,655 L540.2,656.5 L547.2,629.1 Z" fill="#a848e8"/>
<path d="M536.5,655 L532.8,653.5 L547.2,629.1 Z" fill="#9038d0"/>
<path d="M536.5,655 L538.0,658.7 L562.4,644.3 Z" fill="#a848e8"/>
<path d="M536.5,655 L535.0,651.3 L562.4,644.3 Z" fill="#9038d0"/>
<path d="M536.5,655 L533.3,658.2 L564.1,682.6 Z" fill="#a0a0a0"/>
<path d="M536.5,655 L539.7,651.8 L564.1,682.6 Z" fill="#c89040"/>
<path d="M536.5,655 L533.3,651.8 L508.9,682.6 Z" fill="#a0a0a0"/>
<path d="M536.5,655 L539.7,658.2 L508.9,682.6 Z" fill="#c89040"/>
<path d="M536.5,655 L539.7,651.8 L508.9,627.4 Z" fill="#a0a0a0"/>
<path d="M536.5,655 L533.3,658.2 L508.9,627.4 Z" fill="#c89040"/>
<path d="M536.5,655 L539.7,658.2 L564.1,627.4 Z" fill="#a0a0a0"/>
<path d="M536.5,655 L533.3,651.8 L564.1,627.4 Z" fill="#c89040"/>
<path d="M536.5,655 L543.0,655.0 L536.5,620.5 Z" fill="#d8a030"/>
<path d="M536.5,655 L530.0,655.0 L536.5,620.5 Z" fill="#7a4038"/>
<path d="M536.5,655 L536.5,661.5 L573.0,655.0 Z" fill="#d89838"/>
<path d="M536.5,655 L536.5,648.5 L573.0,655.0 Z" fill="#8c8c8c"/>
<path d="M536.5,655 L530.0,655.0 L536.5,690.5 Z" fill="#e0a030"/>
<path d="M536.5,655 L543.0,655.0 L536.5,690.5 Z" fill="#8c8c8c"/>
<path d="M536.5,655 L536.5,648.5 L499.0,655.0 Z" fill="#d89838"/>
<path d="M536.5,655 L536.5,661.5 L499.0,655.0 Z" fill="#8c8c8c"/>
<path d="M536.5,620 V690 M501.0,655 H572.0" stroke="#7a4020" stroke-width="0.8" opacity="0.7"/>
</g>
<rect x="18" y="850" width="332" height="92" fill="#ccffff" stroke="#000" stroke-width="4"/>
<path d="M20,852 H348 V876 H213 Q208,876 208,871 V861 Q208,856 203,856 H69 Q64,856 64,861 V871 Q64,876 59,876 H20 Z" fill="#ffcccc"/>
<text x="23.50" y="871.70" font-family='"Liberation Sans", sans-serif' font-size="21.5" font-weight="normal" font-style="normal" fill="#0000ff" textLength="36.52" lengthAdjust="spacingAndGlyphs" stroke="#0000ff" stroke-width="0.5">KEY</text>
<rect x="90" y="860" width="16" height="16" fill="#ffffcc"/>
<circle cx="98" cy="868" r="6.6" fill="#ffffcc" stroke="#000" stroke-width="2"/>
<text x="110.00" y="871.80" font-family='"Liberation Sans", sans-serif' font-size="10.5" font-weight="normal" font-style="normal" fill="#000" textLength="82.99" lengthAdjust="spacingAndGlyphs" stroke="#000" stroke-width="0.15">Exits Randomized</text>
<text x="242.50" y="862.80" font-family='"Liberation Sans", sans-serif' font-size="9.2" font-weight="normal" font-style="normal" fill="#0000ff" textLength="101.80" lengthAdjust="spacingAndGlyphs">map created 2006 by</text>
<text x="242.50" y="871.20" font-family='"Liberation Sans", sans-serif' font-size="9.2" font-weight="normal" font-style="normal" fill="#0000ff" textLength="99.71" lengthAdjust="spacingAndGlyphs">David Edward Garber</text>
<path d="M214.5,857.5 H227 M214.5,857.5 Q212.5,857.5 212.5,859.5 Q212.5,861.5 214.5,861.5 V869 M227,857.5 V867.5 M212.5,869 H227 Q228.5,869 228.5,870.3 Q228.5,871.5 227,871.5 H214 Q212.5,871.5 212.5,870 Z" fill="none" stroke="#0000ff" stroke-width="1.3"/>
<path d="M217,861.5 H224.5 M217,864.5 H224.5 M219.5,859.5 L221.5,867" stroke="#0000ff" stroke-width="1.1"/>
<path d="M238.5,856.5 Q235,858 233,866" stroke="#0000ff" stroke-width="1.3" fill="none"/><path d="M237.5,857 Q234.5,861 234.5,864" stroke="#0000ff" stroke-width="0.8" fill="none"/>
<path d="M231,871.5 h6 v-2 q-3,-3 -6,0 z" fill="#0000ff"/>
<rect x="24" y="880" width="16" height="16" fill="#000"/><rect x="25" y="881" width="14" height="14" fill="#006400"/><rect x="27" y="883" width="10" height="10" fill="#ffffcc"/>
<text x="43.80" y="892.00" font-family='"Liberation Sans", sans-serif' font-size="10.5" font-weight="normal" font-style="normal" fill="#000" textLength="23.73" lengthAdjust="spacingAndGlyphs" stroke="#000" stroke-width="0.15">Safe</text>
<rect x="24" y="900" width="16" height="16" fill="#000"/><rect x="25" y="901" width="14" height="14" fill="#808000"/><rect x="27" y="903" width="10" height="10" fill="#ffffcc"/>
<text x="43.80" y="912.00" font-family='"Liberation Sans", sans-serif' font-size="10.5" font-weight="normal" font-style="normal" fill="#000" textLength="37.53" lengthAdjust="spacingAndGlyphs" stroke="#000" stroke-width="0.15">Private</text>
<rect x="24" y="920" width="16" height="16" fill="#000"/><rect x="25" y="921" width="14" height="14" fill="#800000"/><rect x="27" y="923" width="10" height="10" fill="#ffffcc"/>
<text x="43.80" y="932.00" font-family='"Liberation Sans", sans-serif' font-size="10.5" font-weight="normal" font-style="normal" fill="#000" textLength="35.39" lengthAdjust="spacingAndGlyphs" stroke="#000" stroke-width="0.15">Cursed</text>
<rect x="90" y="880" width="16" height="16" fill="#000"/><rect x="92" y="882" width="12" height="12" fill="#00ff00"/>
<text x="109.60" y="892.00" font-family='"Liberation Sans", sans-serif' font-size="10.5" font-weight="normal" font-style="normal" fill="#000" textLength="23.40" lengthAdjust="spacingAndGlyphs" stroke="#000" stroke-width="0.15">Land</text>
<rect x="90" y="900" width="16" height="16" fill="#000"/><rect x="92" y="902" width="12" height="12" fill="#00ffff"/>
<text x="109.60" y="912.00" font-family='"Liberation Sans", sans-serif' font-size="10.5" font-weight="normal" font-style="normal" fill="#000" textLength="29.20" lengthAdjust="spacingAndGlyphs" stroke="#000" stroke-width="0.15">Water</text>
<rect x="90" y="920" width="16" height="16" fill="#000"/><rect x="92" y="922" width="12" height="12" fill="#ffffff"/>
<text x="109.60" y="932.00" font-family='"Liberation Sans", sans-serif' font-size="10.5" font-weight="normal" font-style="normal" fill="#000" textLength="13.53" lengthAdjust="spacingAndGlyphs" stroke="#000" stroke-width="0.15">Air</text>
<rect x="148" y="880" width="16" height="16" fill="#ffffcc"/>
<path d="M154.3,880 V887.2 H148" stroke="#000" stroke-width="2" fill="none"/>
<path d="M154,887 L163,896" stroke="#000" stroke-width="2.4"/>
<text x="167.80" y="892.00" font-family='"Liberation Sans", sans-serif' font-size="10.5" font-weight="normal" font-style="normal" fill="#000" textLength="35.41" lengthAdjust="spacingAndGlyphs" stroke="#000" stroke-width="0.15">Exit: Up</text>
<rect x="148" y="900" width="16" height="16" fill="#ffffcc"/>
<path d="M154.3,900 V907.2 H148" stroke="#000" stroke-width="2" fill="none"/>
<path d="M154,907 L163,916" stroke="#000" stroke-width="3"/><path d="M154.6,907.6 L163,916" stroke="#fff" stroke-width="1"/>
<text x="167.80" y="912.00" font-family='"Liberation Sans", sans-serif' font-size="10.5" font-weight="normal" font-style="normal" fill="#000" textLength="46.79" lengthAdjust="spacingAndGlyphs" stroke="#000" stroke-width="0.15">Exit: Down</text>
<rect x="148" y="920" width="16" height="16" fill="#ffffcc"/>
<path d="M154.3,920 V927.2 H148" stroke="#000" stroke-width="2" fill="none"/>
<path d="M154,927 L163,936" stroke="#993300" stroke-width="2.4"/>
<text x="167.80" y="932.00" font-family='"Liberation Sans", sans-serif' font-size="10.5" font-weight="normal" font-style="normal" fill="#000" textLength="57.09" lengthAdjust="spacingAndGlyphs" stroke="#000" stroke-width="0.15">Exit: Magical</text>
<rect x="234" y="880" width="16" height="16" fill="#ffffcc"/>
<path d="M234,888 H248" stroke="#000" stroke-width="2"/>
<path d="M242,884 V892" stroke="#000" stroke-width="2"/>
<text x="253.80" y="892.00" font-family='"Liberation Sans", sans-serif' font-size="10.5" font-weight="normal" font-style="normal" fill="#000" textLength="89.13" lengthAdjust="spacingAndGlyphs" stroke="#000" stroke-width="0.15">Door without Lock</text>
<rect x="234" y="900" width="16" height="16" fill="#ffffcc"/>
<path d="M234,908 H248" stroke="#000" stroke-width="2"/>
<path d="M242,904 V912" stroke="#ff00ff" stroke-width="2"/>
<text x="253.80" y="912.00" font-family='"Liberation Sans", sans-serif' font-size="10.5" font-weight="normal" font-style="normal" fill="#000" textLength="71.13" lengthAdjust="spacingAndGlyphs" stroke="#000" stroke-width="0.15">Door with Lock</text>
<rect x="234" y="920" width="16" height="16" fill="#ffffcc"/>
<path d="M234,928 H248" stroke="#000" stroke-width="2"/>
<path d="M244,924 L249,928 L244,932" stroke="#000" stroke-width="2" fill="none"/>
<text x="253.80" y="932.00" font-family='"Liberation Sans", sans-serif' font-size="10.5" font-weight="normal" font-style="normal" fill="#000" textLength="61.20" lengthAdjust="spacingAndGlyphs" stroke="#000" stroke-width="0.15">One-Way Only</text>
<rect x="370" y="850" width="332" height="92" fill="#ccffff" stroke="#000" stroke-width="4"/>
<path d="M372,852 H428 Q433,852 433,857 V871 Q433,876 428,876 H372 Z" fill="#ffcccc"/>
<path d="M687.5,852 H700 V874.5 H692.5 Q687.5,874.5 687.5,869.5 Z" fill="#ffcccc"/>
<text x="375.80" y="862.50" font-family='"Liberation Mono", monospace' font-size="10.5" font-weight="normal" font-style="normal" fill="#0000ff" textLength="52.21" lengthAdjust="spacingAndGlyphs">Points of</text>
<text x="375.80" y="871.70" font-family='"Liberation Mono", monospace' font-size="10.5" font-weight="normal" font-style="normal" fill="#0000ff" textLength="45.71" lengthAdjust="spacingAndGlyphs">Interest</text>
<path d="M691.5,861.5 V855.5 L695,861.5 V855.5" stroke="#0000ff" stroke-width="1.1" fill="none"/>
<path d="M693.3,862 V866.5 M693.3,865.8 l3,3 l-3,3 l-3,-3 z" stroke="#0000ff" stroke-width="1.6" fill="none"/>
<rect x="436.3" y="856.3" width="7.6" height="7.6" fill="#ffffcc"/>
<rect x="487.2" y="856.3" width="7.8" height="7.6" fill="#ffffcc"/>
<rect x="544.4" y="856.3" width="7.7" height="7.6" fill="#ffffcc"/>
<rect x="628.2" y="856.3" width="7.6" height="7.6" fill="#ffffcc"/>
<rect x="441.8" y="867.8" width="8.3" height="8" fill="#ffffcc"/>
<rect x="509.9" y="867.8" width="8.3" height="8" fill="#ffffcc"/>
<rect x="549.3" y="867.8" width="7.7" height="8" fill="#ffffcc"/>
<path d="M440.1,857.2 V863 M437.3,860.1 H443" stroke="#800000" stroke-width="2.2"/>
<path d="M488.5,857.5 H494 V860.5 Q494,863.5 491.2,864.5 Q488.5,863.5 488.5,860.5 Z" fill="none" stroke="#b04000" stroke-width="1.4"/><path d="M490,859.8 h2.5" stroke="#b04000" stroke-width="1"/>
<path d="M545.3,858.6 H551.5 M549.5,857 L551.5,858.6 M545.3,862 H551.5 M547.2,860.4 L545.3,862" stroke="#a08000" stroke-width="1.4" fill="none"/>
<text x="629.50" y="863.60" font-family='"Liberation Sans", sans-serif' font-size="9.5" font-weight="bold" font-style="normal" fill="#008000" textLength="5.31" lengthAdjust="spacingAndGlyphs">$</text>
<path d="M442.5,875 h7 M443.3,875 l1.6,-4.6 h2.2 l1.6,4.6 z M442.4,869.6 q3.6,-2.6 7.2,0" stroke="#000080" stroke-width="1.2" fill="#000080"/>
<circle cx="512.6" cy="871.8" r="1.8" fill="none" stroke="#800080" stroke-width="1.5"/><path d="M514.2,871.8 h3.8 M517.3,871.8 v2.2 M515.8,871.8 v1.8" stroke="#800080" stroke-width="1.4"/>
<text x="550.80" y="875.00" font-family='"Liberation Sans", sans-serif' font-size="9.5" font-weight="bold" font-style="normal" fill="#808080" textLength="5.41" lengthAdjust="spacingAndGlyphs">?</text>
<text x="446.00" y="863.60" font-family='"Liberation Mono", monospace' font-size="11" font-weight="normal" font-style="normal" fill="#000" textLength="35.70" lengthAdjust="spacingAndGlyphs" stroke="#000" stroke-width="0.2">Healer</text>
<text x="497.40" y="863.60" font-family='"Liberation Mono", monospace' font-size="11" font-weight="normal" font-style="normal" fill="#000" textLength="40.81" lengthAdjust="spacingAndGlyphs" stroke="#000" stroke-width="0.2">Trainer</text>
<text x="553.50" y="863.60" font-family='"Liberation Mono", monospace' font-size="11" font-weight="normal" font-style="normal" fill="#000" textLength="69.31" lengthAdjust="spacingAndGlyphs" stroke="#000" stroke-width="0.2">Shop(keeper)</text>
<text x="637.40" y="863.60" font-family='"Liberation Mono", monospace' font-size="11" font-weight="normal" font-style="normal" fill="#000" textLength="46.61" lengthAdjust="spacingAndGlyphs" stroke="#000" stroke-width="0.2">Bank(er)</text>
<text x="451.50" y="875.00" font-family='"Liberation Mono", monospace' font-size="11" font-weight="normal" font-style="normal" fill="#000" textLength="47.91" lengthAdjust="spacingAndGlyphs" stroke="#000" stroke-width="0.2">Fountain</text>
<text x="520.10" y="875.00" font-family='"Liberation Mono", monospace' font-size="11" font-weight="normal" font-style="normal" fill="#000" textLength="18.10" lengthAdjust="spacingAndGlyphs" stroke="#000" stroke-width="0.2">Key</text>
<text x="558.30" y="875.00" font-family='"Liberation Mono", monospace' font-size="11" font-weight="normal" font-style="normal" fill="#000" textLength="119.62" lengthAdjust="spacingAndGlyphs" stroke="#000" stroke-width="0.2">Quest Character/Item</text>
<rect x="532" y="881" width="8" height="60" rx="4" fill="#ffcccc"/>
<circle cx="536" cy="886" r="1.5" fill="#0000ff"/>
<circle cx="536" cy="898" r="1.5" fill="#0000ff"/>
<circle cx="536" cy="910" r="1.5" fill="#0000ff"/>
<circle cx="536" cy="922" r="1.5" fill="#0000ff"/>
<circle cx="536" cy="934" r="1.5" fill="#0000ff"/>
<rect x="377" y="892" width="7" height="8" fill="#00ffff"/>
<text x="377.90" y="899.70" font-family='"Liberation Sans", sans-serif' font-size="10.5" font-weight="bold" font-style="normal" fill="#993300" textLength="5.21" lengthAdjust="spacingAndGlyphs" stroke="#993300" stroke-width="0.5">0</text>
<text x="388.00" y="899.80" font-family='"Liberation Mono", monospace' font-size="11.5" font-weight="normal" font-style="normal" fill="#993300" textLength="54.51" lengthAdjust="spacingAndGlyphs" stroke="#993300" stroke-width="0.2">Ngatakai</text>
<text x="453.00" y="899.80" font-family='"Liberation Mono", monospace' font-size="11.5" font-weight="normal" font-style="normal" fill="#993300" textLength="65.01" lengthAdjust="spacingAndGlyphs" stroke="#993300" stroke-width="0.2">(mindbender)</text>
<rect x="377" y="916" width="7" height="8" fill="#00ff00"/>
<text x="377.90" y="923.70" font-family='"Liberation Sans", sans-serif' font-size="10.5" font-weight="bold" font-style="normal" fill="#800080" textLength="5.21" lengthAdjust="spacingAndGlyphs" stroke="#800080" stroke-width="0.5">1</text>
<text x="388.00" y="923.60" font-family='"Liberation Mono", monospace' font-size="11.5" font-weight="normal" font-style="normal" fill="#800080" textLength="69.31" lengthAdjust="spacingAndGlyphs" stroke="#800080" stroke-width="0.2">Venghilrim</text>
<rect x="544.5" y="892" width="7" height="8" fill="#00ff00"/>
<text x="545.40" y="899.70" font-family='"Liberation Sans", sans-serif' font-size="10.5" font-weight="bold" font-style="normal" fill="#000" textLength="5.21" lengthAdjust="spacingAndGlyphs" stroke="#000" stroke-width="0.5">2</text>
<text x="556.30" y="899.80" font-family='"Liberation Mono", monospace' font-size="11.5" font-weight="normal" font-style="normal" fill="#000" textLength="125.02" lengthAdjust="spacingAndGlyphs" stroke="#000" stroke-width="0.2">monstrous tentacle</text>
<rect x="544.5" y="916" width="7" height="8" fill="#00ff00"/>
<text x="545.40" y="923.70" font-family='"Liberation Sans", sans-serif' font-size="10.5" font-weight="bold" font-style="normal" fill="#000" textLength="5.21" lengthAdjust="spacingAndGlyphs" stroke="#000" stroke-width="0.5">3</text>
<text x="556.30" y="923.60" font-family='"Liberation Mono", monospace' font-size="11.5" font-weight="normal" font-style="normal" fill="#000" textLength="139.22" lengthAdjust="spacingAndGlyphs" stroke="#000" stroke-width="0.2">perversion of nature</text>
</svg>
</body></html>
